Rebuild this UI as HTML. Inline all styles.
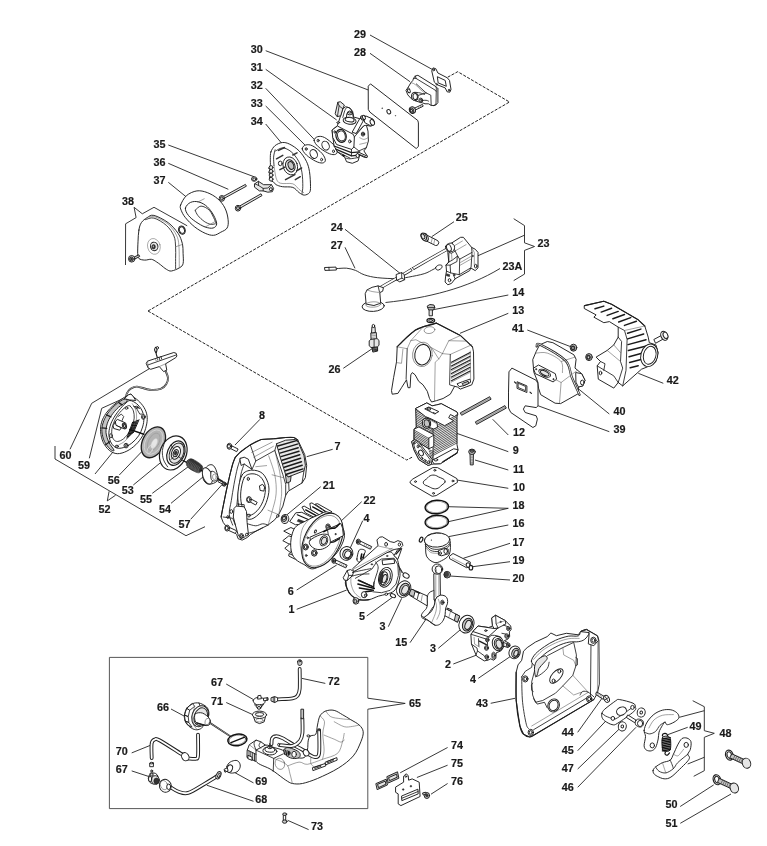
<!DOCTYPE html>
<html><head><meta charset="utf-8"><title>Parts diagram</title>
<style>
html,body{margin:0;padding:0;background:#fff;}
body{width:767px;height:846px;overflow:hidden;font-family:"Liberation Sans",sans-serif;}
svg{display:block;}
.lb{font-family:"Liberation Sans",sans-serif;font-weight:bold;font-size:11.6px;fill:#1a1a1a;stroke:#1a1a1a;stroke-width:0.2px;}
.ld{fill:none;stroke:#222;stroke-width:0.9;}
.ds{fill:none;stroke:#222;stroke-width:1.0;stroke-dasharray:3.1 1.4;}
.p{fill:#fff;stroke:#1e1e1e;stroke-width:0.95;stroke-linejoin:round;stroke-linecap:round;}
.pg{fill:#e6e6e6;stroke:#1e1e1e;stroke-width:0.95;stroke-linejoin:round;stroke-linecap:round;}
.pd{fill:#c4c4c4;stroke:#1e1e1e;stroke-width:0.95;stroke-linejoin:round;stroke-linecap:round;}
.pk{fill:#333;stroke:#222;stroke-width:0.6;stroke-linejoin:round;}
.l{fill:none;stroke:#1e1e1e;stroke-width:0.85;stroke-linejoin:round;stroke-linecap:round;}
.lt{fill:none;stroke:#555;stroke-width:0.55;stroke-linejoin:round;stroke-linecap:round;}
.lk{fill:none;stroke:#111;stroke-width:1.3;stroke-linejoin:round;stroke-linecap:round;}
</style></head><body>
<svg width="767" height="846" viewBox="0 0 767 846">
<rect width="767" height="846" fill="#fff"/>

<g id="frame">
<path class="ld" style="stroke:#444;stroke-width:0.9" d="M367.8 698.2 L367.8 657.4 L109.4 657.4 L109.4 808.6 L367.8 808.6 L367.8 709.2"/>
<polyline class="ds" points="148.0,311.0 509.5,102.0 457.7,71.7 447.3,77.4"/>
<polyline class="ds" points="148.0,311.0 406.7,460.0 413.0,456.7"/>
</g>
<g id="leaders">
<polyline class="ld" points="370.0,35.0 433.3,70.0"/>
<polyline class="ld" points="370.0,53.3 410.0,81.7"/>
<polyline class="ld" points="265.7,50.7 368.3,90.0"/>
<polyline class="ld" points="265.7,69.3 336.7,120.0"/>
<polyline class="ld" points="265.7,88.3 322.7,148.3"/>
<polyline class="ld" points="265.7,106.0 308.3,148.3"/>
<polyline class="ld" points="265.7,124.0 281.7,143.3"/>
<polyline class="ld" points="168.3,145.0 254.0,176.7"/>
<polyline class="ld" points="168.3,163.3 228.3,189.3"/>
<polyline class="ld" points="168.3,182.3 186.0,196.7"/>
<polyline class="ld" points="125.5,265.0 125.6,223.8 136.1,217.6 134.1,207.3 142.3,213.8 154.0,207.3 187.2,225.8"/>
<polyline class="ld" points="454.0,221.7 431.7,236.7"/>
<polyline class="ld" points="345.0,229.3 400.0,273.3"/>
<polyline class="ld" points="345.0,247.3 355.0,268.3"/>
<polyline class="ld" points="513.7,218.7 524.5,225.6 524.5,242.8 534.5,246.5 524.5,250.4 524.5,274.1 513.7,280.6"/>
<polyline class="ld" points="524.5,235.2 477.8,255.8"/>
<polyline class="ld" points="508.3,295.0 431.7,310.0"/>
<polyline class="ld" points="508.3,313.3 460.0,333.3"/>
<polyline class="ld" points="527.3,330.0 570.7,346.7"/>
<polyline class="ld" points="663.3,383.3 638.3,373.3"/>
<polyline class="ld" points="609.3,414.0 570.0,382.0"/>
<polyline class="ld" points="609.3,431.7 536.0,405.0"/>
<polyline class="ld" points="343.3,368.3 372.7,348.3"/>
<polyline class="ld" points="508.3,435.0 492.7,419.3"/>
<polyline class="ld" points="508.3,451.7 456.7,433.3"/>
<polyline class="ld" points="508.3,470.0 475.0,460.0"/>
<polyline class="ld" points="508.3,488.3 456.7,480.0"/>
<polyline class="ld" points="448.3,506.7 508.3,508.3 448.3,521.7"/>
<polyline class="ld" points="508.3,525.0 448.3,536.7"/>
<polyline class="ld" points="510.0,543.3 463.3,558.3"/>
<polyline class="ld" points="510.0,561.7 472.7,566.7"/>
<polyline class="ld" points="510.0,580.0 450.0,576.0"/>
<polyline class="ld" points="332.7,449.3 306.7,456.7"/>
<polyline class="ld" points="320.7,486.7 286.7,515.0"/>
<polyline class="ld" points="361.7,501.7 335.0,526.7"/>
<polyline class="ld" points="362.7,520.7 349.3,550.0"/>
<polyline class="ld" points="70.0,449.3 91.7,403.3 150.0,368.3"/>
<polyline class="ld" points="89.3,458.3 101.7,408.3 126.0,397.3"/>
<polyline class="ld" points="95.0,474.0 114.0,450.7"/>
<polyline class="ld" points="119.3,475.0 141.7,451.7"/>
<polyline class="ld" points="133.3,485.0 161.7,461.7"/>
<polyline class="ld" points="152.3,493.3 188.3,466.7"/>
<polyline class="ld" points="171.0,503.3 203.3,476.7"/>
<polyline class="ld" points="190.7,519.3 221.7,485.0"/>
<polyline class="ld" points="260.0,419.3 235.0,445.0"/>
<polyline class="ld" points="55.0,446.0 55.0,459.0 186.0,535.7 205.0,526.7"/>
<polyline class="ld" points="109.1,491.3 107.3,500.9 115.6,495.2"/>
<polyline class="ld" points="296.7,590.0 336.7,565.0"/>
<polyline class="ld" points="296.7,609.3 346.7,590.0"/>
<polyline class="ld" points="366.7,616.0 393.3,596.7"/>
<polyline class="ld" points="388.3,626.7 401.7,598.3"/>
<polyline class="ld" points="410.0,642.7 430.0,613.3"/>
<polyline class="ld" points="438.3,648.3 460.0,630.0"/>
<polyline class="ld" points="453.3,664.0 476.7,655.0"/>
<polyline class="ld" points="478.3,678.3 510.0,656.7"/>
<polyline class="ld" points="490.7,703.3 515.0,698.3"/>
<polyline class="ld" points="577.7,732.3 602.7,697.3"/>
<polyline class="ld" points="577.7,750.7 607.7,719.0"/>
<polyline class="ld" points="577.7,769.0 621.0,727.3"/>
<polyline class="ld" points="577.7,787.3 636.0,727.3"/>
<polyline class="ld" points="687.7,727.3 667.7,734.7"/>
<polyline class="ld" points="692.7,700.7 704.3,706.7 704.3,730.7 714.3,733.3 704.3,737.3 704.3,770.7 693.7,776.3"/>
<polyline class="ld" points="704.3,710.7 679.3,717.3"/>
<polyline class="ld" points="704.3,757.3 687.7,764.0"/>
<polyline class="ld" points="680.2,806.5 713.7,784.9"/>
<polyline class="ld" points="680.3,823.3 731.0,794.0"/>
<polyline class="ld" points="367.8,698.2 405.2,703.4 367.8,709.2"/>
<polyline class="ld" points="447.6,747.5 400.2,772.8"/>
<polyline class="ld" points="447.6,765.2 416.9,777.5"/>
<polyline class="ld" points="447.6,783.5 431.0,794.2"/>
<polyline class="ld" points="226.2,684.0 254.2,700.0"/>
<polyline class="ld" points="226.2,702.5 253.5,715.0"/>
<polyline class="ld" points="171.0,709.0 186.8,717.5"/>
<polyline class="ld" points="325.3,683.4 302.0,678.4"/>
<polyline class="ld" points="131.7,752.9 150.7,745.2"/>
<polyline class="ld" points="131.7,770.9 150.0,776.9"/>
<polyline class="ld" points="253.5,782.9 233.5,771.9"/>
<polyline class="ld" points="253.5,801.3 206.8,785.2"/>
<polyline class="ld" points="308.6,829.6 287.6,820.3"/>
<path class="ld" d="M500 268.5 C468 288 428 298 385.5 302.5"/>
</g>
<g id="parts">
<!-- a1_cover38.svg -->
<path class="p" d="M138.9 230.1 C139.4 226.9 140.0 224.7 141.4 222.6 C142.8 220.5 145.1 218.8 147.2 217.6 C149.3 216.4 150.4 214.6 153.9 215.4 C157.4 216.2 164.0 219.6 168.1 222.6 C172.1 225.6 175.7 229.9 178.1 233.4 C180.5 236.9 181.4 240.1 182.3 243.4 C183.1 246.8 183.0 250.1 183.1 253.5 C183.2 256.8 183.7 261.1 183.1 263.5 C182.6 265.8 181.7 266.4 179.8 267.6 C177.8 268.9 173.6 270.7 171.4 271.0 C169.2 271.3 168.2 270.3 166.4 269.3 C164.6 268.3 162.2 266.1 160.6 264.8 C158.9 263.6 157.9 262.7 156.4 261.8 C154.9 260.9 153.3 259.6 151.4 259.3 C149.4 259.0 146.8 260.3 144.7 260.1 C142.6 260.0 140.0 259.6 138.9 258.5 C137.7 257.4 137.8 256.2 137.7 253.5 C137.6 250.7 137.8 245.7 138.0 241.8 C138.2 237.9 138.3 233.3 138.9 230.1Z"/>
<path class="l" d="M145.5 219.7 C146.9 219.5 150.4 217.1 153.9 218.1 C157.4 219.0 163.1 222.4 166.4 225.4 C169.8 228.4 172.4 232.4 173.9 235.9 C175.5 239.5 175.3 243.0 175.6 246.8 C175.9 250.5 175.6 254.8 175.6 258.5 C175.6 262.1 175.6 266.8 175.6 268.5"/>
<path class="lt" d="M148.9 217.1 C150.0 217.1 152.4 215.9 155.6 217.1 C158.8 218.3 164.6 221.2 168.1 224.2 C171.6 227.2 174.6 231.5 176.4 235.1 C178.2 238.7 178.5 240.5 178.9 245.9 C179.4 251.4 179.2 264.0 179.3 267.6"/>
<path class="lt" d="M175.6 246.8 L182.8 244.3"/>
<ellipse class="p" cx="153.9" cy="246.4" rx="6.3" ry="8.0" transform="rotate(-15.0 153.9 246.4)" style="stroke:#666;stroke-width:0.5"/>
<ellipse class="pg" cx="154.2" cy="246.4" rx="3.7" ry="4.3" transform="rotate(-15.0 154.2 246.4)"/>
<ellipse class="pk" cx="153.6" cy="246.8" rx="1.8" ry="2.2" transform="rotate(0.0 153.6 246.8)"/>
<ellipse class="p" cx="153.4" cy="246.6" rx="0.8" ry="1.0" transform="rotate(0.0 153.4 246.6)" style="stroke-width:0.4"/>
<path class="pd" d="M133.9 257.1 L138.9 254.8 L139.7 256.5 L134.7 259.1Z"/>
<ellipse class="pg" cx="131.7" cy="258.8" rx="3.2" ry="3.3" transform="rotate(0.0 131.7 258.8)"/>
<ellipse class="pd" cx="131.4" cy="259.0" rx="1.8" ry="2.0" transform="rotate(0.0 131.4 259.0)"/>
<ellipse class="pk" cx="131.4" cy="259.0" rx="0.8" ry="1.0" transform="rotate(0.0 131.4 259.0)"/>
<ellipse class="p" cx="181.9" cy="230.1" rx="3.3" ry="4.2" transform="rotate(-20.0 181.9 230.1)"/>
<ellipse class="p" cx="181.9" cy="230.1" rx="2.5" ry="3.3" transform="rotate(-20.0 181.9 230.1)"/>
<!-- a2_filter.svg -->
<path class="p" d="M180.6 205.1 C181.5 202.7 183.7 198.1 186.4 195.7 C189.1 193.3 193.4 191.4 196.9 190.9 C200.3 190.4 203.8 191.3 207.3 192.6 C210.8 193.9 214.8 196.2 217.7 198.8 C220.7 201.4 223.3 204.7 225.0 208.2 C226.8 211.7 227.8 216.4 228.1 219.7 C228.5 223.0 228.3 226.0 227.1 228.0 C225.9 230.1 223.1 231.0 220.8 232.2 C218.6 233.4 216.2 235.2 213.5 235.3 C210.9 235.5 208.3 234.6 205.2 233.3 C202.1 231.9 198.1 229.6 194.8 227.0 C191.5 224.4 187.6 220.4 185.4 217.6 C183.1 214.8 182.0 212.4 181.2 210.3 C180.4 208.2 179.7 207.5 180.6 205.1Z"/>
<path class="p" d="M185.4 208.2 C185.7 206.0 188.3 203.4 190.6 202.4 C192.9 201.3 196.2 201.2 198.9 202.0 C201.7 202.7 204.9 204.6 207.3 206.8 C209.7 209.0 212.0 212.3 213.5 215.1 C215.1 218.0 216.7 221.7 216.7 223.9 C216.6 226.0 215.0 227.5 213.1 228.0 C211.2 228.6 208.1 228.0 205.2 227.0 C202.3 226.0 198.6 223.7 195.8 221.8 C193.0 219.9 190.3 217.8 188.5 215.5 C186.8 213.3 185.0 210.4 185.4 208.2Z"/>
<path class="l" d="M195.2 210.3 C196.2 209.6 198.7 206.1 201.0 206.1 C203.4 206.1 207.1 208.0 209.4 210.3 C211.6 212.6 213.5 217.4 214.6 219.7 C215.7 222.0 215.8 223.5 216.1 224.3"/>
<path class="l" d="M195.2 210.3 C195.6 211.2 196.4 213.7 197.9 215.5 C199.4 217.4 202.1 219.9 204.2 221.4 C206.2 222.8 208.7 223.9 210.4 224.3 C212.2 224.7 213.9 223.9 214.6 223.9"/>
<path class="lt" d="M197.9 202.0 L204.2 198.8"/>
<path class="lt" d="M205.2 227.0 L214.6 221.8"/>
<path class="pg" d="M222.4 199.3 L246.4 186.2 L245.4 184.4 L221.4 197.5Z"/>
<ellipse class="p" cx="221.9" cy="198.4" rx="2.7" ry="2.9" transform="rotate(0.0 221.9 198.4)"/>
<ellipse class="pd" cx="221.9" cy="198.4" rx="1.5" ry="1.7" transform="rotate(0.0 221.9 198.4)"/>
<path class="pg" d="M238.5 209.1 L262.0 195.6 L261.0 193.8 L237.4 207.3Z"/>
<ellipse class="p" cx="238.0" cy="208.2" rx="2.7" ry="2.9" transform="rotate(0.0 238.0 208.2)"/>
<ellipse class="pd" cx="238.0" cy="208.2" rx="1.5" ry="1.7" transform="rotate(0.0 238.0 208.2)"/>
<ellipse class="p" cx="254.2" cy="179.0" rx="2.7" ry="2.3" transform="rotate(0.0 254.2 179.0)"/>
<ellipse class="p" cx="254.2" cy="179.2" rx="1.5" ry="1.3" transform="rotate(0.0 254.2 179.2)"/>
<path class="pg" d="M254.8 183.8 L258.4 181.3 L263.6 184.7 L271.5 184.7 L273.6 188.4 L272.4 191.7 L267.8 192.2 L263.2 190.9 L259.4 190.9 L254.8 187.4Z"/>
<path class="l" d="M258.4 181.3 L258.6 185.5 L263.2 188.4 L263.2 190.9"/>
<path class="l" d="M254.8 183.8 L258.6 185.5"/>
<path class="l" d="M263.2 188.4 L267.8 188.0 L271.5 184.7"/>
<ellipse class="p" cx="270.9" cy="189.2" rx="1.5" ry="1.5" transform="rotate(0.0 270.9 189.2)"/>
<path class="p" d="M270.9 151.9 C271.7 149.6 273.2 147.2 275.1 145.6 C277.0 144.1 279.9 142.8 282.4 142.5 C284.8 142.3 286.9 142.8 289.7 144.2 C292.5 145.6 296.3 148.0 299.1 150.9 C301.9 153.7 304.6 157.8 306.4 161.3 C308.1 164.8 308.8 167.5 309.5 171.7 C310.2 175.9 310.5 182.8 310.5 186.3 C310.5 189.8 310.5 191.1 309.5 192.6 C308.5 194.0 306.0 195.1 304.3 195.1 C302.5 195.1 301.0 193.9 299.1 192.6 C297.2 191.3 295.6 188.3 292.8 187.4 C290.0 186.4 285.2 187.2 282.4 186.7 C279.6 186.3 277.6 185.4 276.1 184.7 C274.7 183.9 274.6 182.9 273.6 182.1 C272.6 181.4 271.0 180.9 270.3 180.1 C269.6 179.2 269.3 177.8 269.5 176.9 C269.6 176.1 271.2 175.5 271.1 174.8 C271.0 174.2 269.0 173.6 268.8 172.8 C268.6 172.0 269.9 170.8 269.9 170.1 C269.8 169.3 268.5 168.7 268.6 168.0 C268.7 167.2 270.0 166.9 270.3 165.5 C270.6 164.0 270.2 161.5 270.3 159.2 C270.4 156.9 270.1 154.2 270.9 151.9Z"/>
<path class="l" d="M275.7 150.9 C276.9 150.4 280.2 147.8 282.8 147.9 C285.4 148.1 288.5 149.5 291.1 151.7 C293.8 153.9 296.8 157.8 298.7 161.3 C300.5 164.8 301.3 168.6 302.0 172.8 C302.7 176.9 302.8 182.8 302.8 186.3 C302.8 189.8 302.1 192.4 302.0 193.6"/>
<path class="l" d="M275.1 149.8 C274.8 151.0 273.8 154.5 273.6 157.1 C273.4 159.7 274.0 164.1 274.0 165.5"/>
<path class="lt" d="M274.0 165.5 C274.4 167.5 275.1 175.0 276.1 178.0 C277.2 180.9 277.5 182.2 280.3 183.2 C283.1 184.2 289.7 182.8 292.8 183.8 C295.9 184.9 297.3 188.0 299.1 189.4 C300.9 190.9 302.9 192.1 303.7 192.6"/>
<ellipse class="pg" cx="271.1" cy="167.5" rx="1.9" ry="1.9" transform="rotate(0.0 271.1 167.5)"/>
<ellipse class="pg" cx="271.1" cy="171.3" rx="1.9" ry="1.9" transform="rotate(0.0 271.1 171.3)"/>
<ellipse class="pg" cx="271.1" cy="175.1" rx="1.9" ry="1.9" transform="rotate(0.0 271.1 175.1)"/>
<ellipse class="pg" cx="271.1" cy="179.2" rx="1.9" ry="1.9" transform="rotate(0.0 271.1 179.2)"/>
<ellipse class="pg" cx="290.3" cy="165.9" rx="4.6" ry="6.3" transform="rotate(-20.0 290.3 165.9)"/>
<ellipse class="pd" cx="290.9" cy="165.5" rx="2.7" ry="4.0" transform="rotate(-20.0 290.9 165.5)"/>
<ellipse class="l" cx="290.3" cy="165.9" rx="7.1" ry="9.2" transform="rotate(-20.0 290.3 165.9)"/>
<path class="l" d="M276.5 158.8 L282.8 155.4" style="stroke-width:1.5;stroke:#333"/>
<path class="l" d="M278.6 150.4 L284.5 147.5" style="stroke-width:1.5;stroke:#333"/>
<path class="l" d="M279.9 169.6 L284.9 167.1" style="stroke-width:1.5;stroke:#333"/>
<path class="l" d="M285.5 179.6 L294.9 174.6" style="stroke-width:1.5;stroke:#333"/>
<path class="l" d="M295.3 179.6 L300.3 176.7" style="stroke-width:1.5;stroke:#333"/>
<path class="l" d="M296.6 170.9 L301.6 168.0" style="stroke-width:1.5;stroke:#333"/>
<path class="l" d="M292.8 155.0 L297.0 152.9" style="stroke-width:1.5;stroke:#333"/>
<ellipse class="p" cx="280.3" cy="163.4" rx="1.9" ry="2.3" transform="rotate(0.0 280.3 163.4)"/>
<path class="p" d="M302.2 148.8 C302.1 147.1 304.0 145.5 305.7 145.0 C307.5 144.5 309.9 144.5 312.6 145.9 C315.3 147.2 319.9 151.0 322.0 153.4 C324.1 155.8 325.3 158.6 325.4 160.2 C325.4 161.8 324.0 162.8 322.4 163.0 C320.8 163.1 318.4 162.6 315.8 161.3 C313.1 160.0 308.6 157.1 306.4 155.0 C304.1 152.9 302.3 150.4 302.2 148.8Z"/>
<ellipse class="p" cx="313.7" cy="154.0" rx="3.5" ry="4.6" transform="rotate(-25.0 313.7 154.0)"/>
<ellipse class="p" cx="306.2" cy="149.0" rx="1.0" ry="1.3" transform="rotate(0.0 306.2 149.0)"/>
<ellipse class="p" cx="321.6" cy="159.6" rx="1.0" ry="1.3" transform="rotate(0.0 321.6 159.6)"/>
<path class="p" d="M314.1 140.4 C314.0 138.8 315.9 137.2 317.6 136.7 C319.4 136.2 321.8 136.1 324.5 137.5 C327.2 138.9 331.8 142.6 333.9 145.0 C336.0 147.4 337.2 150.3 337.2 151.9 C337.3 153.5 335.9 154.4 334.3 154.6 C332.7 154.8 330.3 154.3 327.6 152.9 C325.0 151.6 320.5 148.8 318.3 146.7 C316.0 144.6 314.2 142.1 314.1 140.4Z"/>
<ellipse class="p" cx="325.6" cy="145.6" rx="3.5" ry="4.6" transform="rotate(-25.0 325.6 145.6)"/>
<ellipse class="p" cx="318.1" cy="140.6" rx="1.0" ry="1.3" transform="rotate(0.0 318.1 140.6)"/>
<ellipse class="p" cx="333.5" cy="151.3" rx="1.0" ry="1.3" transform="rotate(0.0 333.5 151.3)"/>
<!-- a3_carb.svg -->
<path class="p" d="M431.9 70.6 L433.0 67.9 L435.8 68.7 L437.9 73.0 L447.1 77.7 L449.5 80.4 L451.0 89.4 L449.9 92.2 L447.1 91.8 L445.2 87.9 L437.0 84.7 L434.6 82.4Z"/>
<path class="p" d="M437.7 76.9 L445.2 80.4 L446.3 86.3 L438.5 83.0Z"/>
<ellipse class="p" cx="433.8" cy="69.9" rx="0.8" ry="1.0" transform="rotate(0.0 433.8 69.9)"/>
<ellipse class="p" cx="449.1" cy="90.2" rx="0.8" ry="1.0" transform="rotate(0.0 449.1 90.2)"/>
<ellipse class="p" cx="436.8" cy="84.3" rx="0.6" ry="0.8" transform="rotate(0.0 436.8 84.3)"/>
<path class="p" d="M406.2 90.1 L408.1 87.4 L410.9 82.7 L412.8 80.5 L413.5 78.4 L415.3 76.0 L417.9 75.3 L435.9 86.6 L437.9 88.6 L437.9 102.6 L435.9 105.0 L434.0 105.5 L431.2 105.4 L428.5 103.8 L425.0 103.8 L422.6 102.9 L418.7 101.9 L414.8 100.7 L411.3 98.7 L408.1 95.2Z"/>
<path class="l" d="M435.9 86.6 L436.3 88.3 L436.0 104.0 L434.0 105.5"/>
<path class="lt" d="M436.3 88.3 L437.9 88.6"/>
<path class="l" d="M415.3 76.0 L416.0 78.4 L435.1 90.1 L436.0 91.3"/>
<path class="l" d="M413.5 78.4 L416.0 78.4"/>
<path class="lt" d="M410.9 82.7 C411.3 82.8 412.6 83.0 413.6 83.5 C414.6 84.0 415.6 84.8 416.7 85.8 C417.9 86.9 419.3 88.6 420.6 89.7 C422.0 90.9 423.9 92.3 424.6 92.9"/>
<path class="l" d="M416.3 83.9 L426.1 92.9"/>
<path class="l" d="M426.1 92.9 L417.5 95.6"/>
<path class="l" d="M426.1 92.9 L430.8 95.2 L431.2 105.4"/>
<ellipse class="p" cx="414.8" cy="96.5" rx="3.3" ry="4.1" transform="rotate(-10.0 414.8 96.5)"/>
<ellipse class="p" cx="415.2" cy="96.6" rx="2.2" ry="3.0" transform="rotate(-10.0 415.2 96.6)"/>
<ellipse class="p" cx="420.8" cy="100.4" rx="1.9" ry="2.3" transform="rotate(0.0 420.8 100.4)"/>
<ellipse class="p" cx="421.0" cy="100.5" rx="1.0" ry="1.4" transform="rotate(0.0 421.0 100.5)"/>
<path class="l" d="M414.8 92.3 C415.6 92.4 418.2 92.5 419.9 92.9 C421.5 93.2 423.8 94.2 424.6 94.4"/>
<path class="l" d="M422.7 100.4 C423.3 100.4 425.2 100.2 426.1 100.3 C427.1 100.4 428.1 100.9 428.5 101.1"/>
<ellipse class="p" cx="408.9" cy="90.9" rx="1.3" ry="2.0" transform="rotate(-25.0 408.9 90.9)"/>
<path class="l" d="M408.1 87.4 L409.7 89.1"/>
<path class="p" d="M415.0 107.9 L422.4 104.4 L423.2 106.2 L415.8 109.8Z"/>
<path class="lt" d="M418.3 106.5 L418.9 108.2"/>
<path class="lt" d="M420.3 105.5 L420.9 107.3"/>
<ellipse class="pg" cx="412.4" cy="110.1" rx="3.0" ry="3.4" transform="rotate(-20.0 412.4 110.1)"/>
<ellipse class="p" cx="411.7" cy="110.5" rx="2.0" ry="2.5" transform="rotate(-20.0 411.7 110.5)"/>
<ellipse class="pg" cx="411.4" cy="110.6" rx="1.1" ry="1.4" transform="rotate(-20.0 411.4 110.6)"/>
<path class="p" d="M368.5 85.9 L370.5 83.9 L417.8 120.5 L418.4 122.9 L418.4 146.5 L416.2 148.5 L369.9 112.1 L368.5 109.8Z"/>
<ellipse class="p" cx="388.8" cy="111.7" rx="1.8" ry="2.3" transform="rotate(-25.0 388.8 111.7)"/>
<ellipse class="pk" cx="382.2" cy="108.2" rx="0.4" ry="0.4" transform="rotate(0.0 382.2 108.2)"/>
<ellipse class="pk" cx="395.5" cy="115.8" rx="0.3" ry="0.3" transform="rotate(0.0 395.5 115.8)"/>
<!-- a4_carb.svg -->
<path class="p" d="M332.4 129.8 L337.4 125.7 L342.8 108.8 L345.7 106.7 L349.8 107.9 L352.7 111.6 L353.5 117.0 L359.7 118.7 L361.4 116.6 L364.7 115.8 L371.3 118.7 L374.2 122.0 L373.0 125.3 L370.1 126.1 L366.4 125.3 L368.0 131.1 L368.4 141.0 L366.4 147.6 L363.9 150.9 L367.2 155.9 L366.4 157.6 L363.9 157.1 L359.7 155.1 L358.1 160.9 L352.3 163.3 L346.5 161.7 L344.9 157.6 L337.4 151.8 L334.1 146.0 L332.9 137.7Z"/>
<path class="pg" d="M335.3 113.3 L337.8 102.3 L340.3 101.7 L344.4 105.0 L342.8 108.8 L340.7 115.8 L337.4 116.6Z"/>
<path class="l" d="M337.8 102.3 L339.1 105.9 L342.8 108.8"/>
<path class="l" d="M339.1 105.9 L337.4 116.6"/>
<path class="l" d="M342.8 117.4 C343.1 116.3 344.2 112.1 344.9 110.4 C345.5 108.8 346.1 107.9 346.9 107.5 C347.7 107.2 348.9 107.6 349.8 108.3 C350.7 109.0 351.7 110.3 352.3 111.6 C352.8 113.0 353.0 115.8 353.1 116.6"/>
<path class="p" d="M347.2 113.7 L352.7 113.7 L353.5 118.7 L346.7 118.7Z"/>
<ellipse class="pg" cx="349.8" cy="113.1" rx="2.6" ry="1.8" transform="rotate(0.0 349.8 113.1)"/>
<ellipse class="p" cx="349.8" cy="112.1" rx="1.5" ry="1.0" transform="rotate(0.0 349.8 112.1)"/>
<ellipse class="p" cx="349.6" cy="120.7" rx="6.5" ry="3.5" transform="rotate(8.0 349.6 120.7)"/>
<ellipse class="p" cx="349.6" cy="119.7" rx="4.5" ry="2.1" transform="rotate(8.0 349.6 119.7)"/>
<path class="p" d="M352.3 131.9 L359.7 118.7 L362.1 117.9 L363.9 119.7 L356.4 133.2Z"/>
<path class="p" d="M363.9 117.0 L366.4 116.2 L373.0 119.1 L374.5 122.0 L373.4 124.9 L370.9 126.0 L365.1 122.8Z"/>
<ellipse class="p" cx="372.3" cy="122.4" rx="2.0" ry="3.0" transform="rotate(-25.0 372.3 122.4)"/>
<ellipse class="pd" cx="362.4" cy="117.9" rx="1.5" ry="2.3" transform="rotate(-25.0 362.4 117.9)"/>
<ellipse class="p" cx="363.9" cy="117.4" rx="1.3" ry="2.2" transform="rotate(-25.0 363.9 117.4)"/>
<path class="p" d="M332.4 129.8 L337.4 126.0 L353.1 134.2 L354.4 136.9 L353.9 147.0 L351.5 149.4 L336.6 144.5 L332.9 137.7Z"/>
<ellipse class="p" cx="341.1" cy="135.9" rx="5.1" ry="6.5" transform="rotate(-15.0 341.1 135.9)" style="stroke-width:1.2"/>
<ellipse class="p" cx="341.4" cy="135.9" rx="3.8" ry="5.1" transform="rotate(-15.0 341.4 135.9)"/>
<ellipse class="p" cx="349.8" cy="141.4" rx="1.2" ry="1.5" transform="rotate(0.0 349.8 141.4)"/>
<ellipse class="p" cx="334.8" cy="131.9" rx="0.8" ry="1.2" transform="rotate(0.0 334.8 131.9)"/>
<ellipse class="p" cx="338.2" cy="122.6" rx="1.5" ry="0.7" transform="rotate(0.0 338.2 122.6)"/>
<path class="l" d="M354.4 136.9 L363.9 125.7"/>
<path class="l" d="M353.9 147.0 L358.9 150.9 L366.4 147.6"/>
<path class="l" d="M356.4 133.2 L363.9 125.7 L366.4 125.3"/>
<ellipse class="p" cx="363.0" cy="134.1" rx="1.7" ry="2.0" transform="rotate(0.0 363.0 134.1)"/>
<ellipse class="p" cx="363.0" cy="134.1" rx="0.8" ry="1.1" transform="rotate(0.0 363.0 134.1)"/>
<path class="lt" d="M359.7 137.7 C360.4 138.0 362.5 139.4 363.9 139.4 C365.3 139.4 367.3 138.0 368.0 137.7"/>
<path class="lt" d="M359.7 144.3 L366.4 142.7"/>
<path class="l" d="M334.1 146.0 L351.5 152.6 L359.7 151.8" style="stroke-width:1.2"/>
<path class="l" d="M335.8 149.1 L351.5 155.9 L358.9 155.1" style="stroke-width:1.2"/>
<path class="l" d="M351.5 149.4 L351.5 155.9"/>
<path class="l" d="M337.4 151.8 L349.8 158.0"/>
<path class="l" d="M345.7 158.0 C346.4 158.1 347.7 158.9 349.8 158.8 C351.9 158.7 356.7 157.8 358.1 157.6"/>
<ellipse class="p" cx="357.7" cy="155.5" rx="1.7" ry="2.0" transform="rotate(0.0 357.7 155.5)"/>
<path class="p" d="M358.5 152.2 L367.6 156.3 L367.0 157.7 L357.9 153.8Z"/>
<path class="l" d="M342.8 155.1 L344.4 155.9" style="stroke-width:1.6;stroke:#111"/>
<!-- b1_ignition.svg -->
<path class="l" d="M336.6 268.6 C338.3 268.6 343.5 267.9 346.6 268.2 C349.7 268.5 352.5 269.3 355.5 270.4 C358.4 271.5 360.6 273.6 364.3 274.8 C368.0 276.1 372.3 277.1 377.6 277.7 C383.0 278.3 391.3 278.7 396.5 278.6 C401.6 278.5 404.0 277.9 408.7 277.1 C413.3 276.2 420.1 275.0 424.2 273.7 C428.2 272.5 431.0 270.5 433.0 269.5 C435.1 268.5 435.8 268.0 436.4 267.7" style="stroke-width:0.9"/>
<path class="p" d="M324.9 267.5 L336.0 267.1 L336.4 270.0 L325.3 270.4Z"/>
<path class="l" d="M328.9 267.3 L329.1 270.2"/>
<path class="p" d="M435.7 267.3 C436.1 266.6 437.5 265.4 438.6 265.1 C439.6 264.8 441.4 265.0 441.9 265.5 C442.4 266.0 442.0 267.5 441.5 268.2 C440.9 268.9 439.4 269.7 438.6 270.0 C437.7 270.2 436.8 270.0 436.4 269.5 C435.9 269.1 435.3 268.0 435.7 267.3Z"/>
<path class="l" d="M450.3 248.2 C449.3 248.7 449.9 247.7 444.1 250.9 C438.3 254.1 422.3 263.2 415.3 267.3 C408.3 271.4 406.8 272.5 402.0 275.3 C397.2 278.1 390.3 282.0 386.5 284.1 C382.7 286.3 380.6 287.5 379.4 288.1" style="stroke:#222;stroke-width:3.2"/>
<path class="l" d="M450.3 248.2 C449.3 248.7 449.9 247.7 444.1 250.9 C438.3 254.1 422.3 263.2 415.3 267.3 C408.3 271.4 406.8 272.5 402.0 275.3 C397.2 278.1 390.3 282.0 386.5 284.1 C382.7 286.3 380.6 287.5 379.4 288.1" style="stroke:#fff;stroke-width:1.9"/>
<path class="l" d="M411.1 267.7 L412.9 270.2" style="stroke:#fff;stroke-width:2.2"/>
<path class="l" d="M410.6 268.4 L412.0 270.6"/>
<path class="l" d="M412.2 267.3 L413.8 269.5"/>
<path class="p" d="M396.5 274.4 L401.6 272.6 L404.2 274.4 L404.7 279.7 L399.8 281.9 L396.9 280.2Z"/>
<path class="l" d="M401.6 272.6 L401.8 278.2 L404.7 279.7"/>
<path class="l" d="M396.9 280.2 L401.8 278.2"/>
<ellipse class="p" cx="373.2" cy="306.3" rx="11.1" ry="5.1" transform="rotate(-3.0 373.2 306.3)"/>
<path class="p" d="M366.1 303.7 L365.2 293.7 L367.0 289.9 L372.1 287.3 L378.1 285.9 L383.4 287.7 L382.7 291.2 L379.8 292.6 L380.7 303.2 L374.3 305.4Z"/>
<ellipse class="lt" cx="373.2" cy="304.5" rx="7.5" ry="2.7" transform="rotate(-3.0 373.2 304.5)"/>
<path class="l" d="M378.1 285.9 L379.4 291.7"/>
<path class="lt" d="M367.0 289.9 C367.8 290.2 369.9 291.0 372.1 291.5 C374.2 291.9 378.5 292.4 379.8 292.6"/>
<path class="pg" d="M371.4 339.1 L376.7 338.2 L379.0 340.4 L379.0 345.3 L377.2 347.1 L371.0 347.5 L369.2 345.8 L369.2 341.3Z"/>
<path class="pd" d="M372.3 347.5 L377.6 347.1 L377.6 351.1 L373.2 352.0Z"/>
<path class="p" d="M371.2 332.9 L376.3 332.5 L376.7 338.7 L371.4 339.1Z"/>
<path class="pg" d="M372.3 326.9 L375.0 326.9 L375.4 332.5 L371.9 332.9Z"/>
<ellipse class="p" cx="373.4" cy="326.0" rx="1.3" ry="1.6" transform="rotate(0.0 373.4 326.0)"/>
<path class="lt" d="M371.4 334.2 L376.5 333.8"/>
<path class="lt" d="M371.4 335.8 L376.5 335.3"/>
<path class="lt" d="M371.4 337.3 L376.5 336.9"/>
<path class="l" d="M372.5 348.4 L377.6 348.0"/>
<path class="l" d="M372.5 349.8 L377.6 349.3"/>
<path class="l" d="M372.5 350.9 L377.6 350.4"/>
<path class="l" d="M374.1 339.1 L374.1 347.1"/>
<path class="pg" d="M429.5 309.2 L432.4 309.2 L432.4 315.8 L429.5 315.8Z"/>
<path class="pd" d="M427.5 305.9 L429.9 304.5 L433.9 305.0 L434.8 307.2 L433.5 309.9 L429.0 309.9Z"/>
<path class="l" d="M427.7 307.6 L434.8 307.6"/>
<ellipse class="p" cx="430.8" cy="320.5" rx="3.8" ry="2.0" transform="rotate(0.0 430.8 320.5)" style="stroke-width:1.3"/>
<ellipse class="p" cx="430.8" cy="320.5" rx="2.0" ry="0.9" transform="rotate(0.0 430.8 320.5)"/>
<!-- b1a_coil.svg -->
<path class="p" d="M425.9 234.6 L437.8 240.7 L438.9 242.8 L437.4 245.3 L435.5 245.5 L424.6 240.1Z"/>
<path class="lt" d="M432.3 238.0 L431.1 243.2"/>
<path class="lt" d="M434.9 239.2 L433.6 244.5"/>
<ellipse class="pg" cx="425.2" cy="237.3" rx="2.7" ry="4.1" transform="rotate(-25.0 425.2 237.3)"/>
<ellipse class="p" cx="423.7" cy="236.7" rx="2.5" ry="3.8" transform="rotate(-25.0 423.7 236.7)"/>
<ellipse class="pg" cx="423.0" cy="236.4" rx="1.6" ry="2.7" transform="rotate(-25.0 423.0 236.4)"/>
<path class="p" d="M452.0 242.8 L460.6 237.3 L463.4 237.3 L471.6 247.4 L475.2 249.2 L478.0 252.4 L478.0 267.9 L475.2 270.6 L470.7 267.9 L469.7 270.6 L455.1 278.8 L451.5 283.4 L447.8 284.8 L445.1 282.0 L445.6 276.1 L446.5 271.1 L446.0 265.1 L448.8 262.0 L447.8 252.4 L447.8 248.7Z"/>
<path class="l" d="M452.0 242.8 L455.1 251.0 L457.9 256.5 L459.7 259.2 L472.0 252.4 L471.6 247.4"/>
<path class="lt" d="M455.1 251.0 L466.1 244.6"/>
<path class="lt" d="M453.3 246.4 L462.4 241.0"/>
<path class="l" d="M459.7 259.2 L459.3 274.7 L470.7 267.9"/>
<path class="l" d="M472.0 252.4 L471.1 267.0"/>
<path class="lt" d="M460.6 262.4 L470.8 256.5"/>
<path class="lt" d="M460.4 265.1 L470.8 259.2"/>
<path class="l" d="M446.0 265.1 L448.8 262.0 L452.4 260.1 L457.0 256.5 L457.9 256.5"/>
<path class="l" d="M446.5 271.1 L450.6 272.9 L459.3 274.7"/>
<path class="l" d="M450.6 272.9 L450.1 265.1 L457.0 261.5 L457.2 256.9"/>
<path class="l" d="M446.0 265.1 L450.1 265.1"/>
<path class="l" d="M448.8 262.0 L448.9 252.4 L451.5 253.3 L455.1 251.0"/>
<path class="lt" d="M451.5 253.3 L452.0 259.7"/>
<path class="l" d="M455.1 278.8 L453.3 274.7"/>
<ellipse class="p" cx="449.5" cy="280.2" rx="1.3" ry="1.6" transform="rotate(0.0 449.5 280.2)"/>
<ellipse class="p" cx="475.7" cy="266.1" rx="1.3" ry="1.8" transform="rotate(0.0 475.7 266.1)"/>
<ellipse class="p" cx="454.2" cy="275.0" rx="0.7" ry="0.7" transform="rotate(0.0 454.2 275.0)"/>
<path class="pk" d="M446.5 273.8 L449.7 274.7 L449.5 276.6 L446.5 275.7Z"/>
<ellipse class="pk" cx="472.9" cy="256.0" rx="0.5" ry="0.9" transform="rotate(0.0 472.9 256.0)"/>
<path class="lt" d="M471.6 247.4 L474.3 252.4 L474.3 265.1"/>
<path class="p" d="M445.6 246.4 C445.9 245.5 447.3 244.2 448.3 243.7 C449.3 243.2 450.5 242.9 451.5 243.2 C452.5 243.6 453.7 244.6 454.2 245.5 C454.7 246.5 454.7 247.9 454.4 248.9 C454.1 249.9 453.4 251.0 452.4 251.5 C451.5 251.9 449.7 251.9 448.8 251.6 C447.8 251.3 447.0 250.5 446.5 249.6 C445.9 248.8 445.3 247.4 445.6 246.4Z"/>
<ellipse class="p" cx="448.9" cy="247.8" rx="2.2" ry="3.5" transform="rotate(-20.0 448.9 247.8)"/>
<!-- b2_cover13.svg -->
<path class="p" d="M436.6 323.2 L460.3 335.4 L472.5 346.8 L473.5 351.9 L473.9 379.1 L471.8 384.8 L460.3 389.1 L457.4 387.0 L454.6 386.3 L450.3 394.2 L443.1 398.5 L436.6 400.6 L431.6 402.0 L429.5 398.5 L427.3 391.3 L423.0 384.8 L418.7 381.3 L415.1 374.8 L412.3 372.6 L410.8 374.8 L410.1 387.7 L408.0 387.7 L406.5 379.8 L401.5 387.7 L397.9 393.4 L392.2 394.2 L391.5 390.6 L393.6 377.7 L396.5 361.9 L397.2 346.8 L405.8 338.2 L415.1 330.3 L423.0 326.8 L428.8 324.9Z"/>
<path class="l" d="M397.2 346.8 C398.6 345.4 402.8 341.0 405.8 338.2 C408.8 335.5 412.3 332.3 415.1 330.3 C418.0 328.4 419.4 328.0 423.0 326.8 C426.6 325.6 434.4 323.8 436.6 323.2" style="stroke-width:1.3"/>
<path class="l" d="M436.6 323.2 L460.3 335.4 L472.5 346.8" style="stroke-width:1.1"/>
<path class="lt" d="M423.0 327.2 L410.8 340.7 L407.2 348.7 L397.2 346.8"/>
<path class="l" d="M407.2 348.7 L406.1 379.1"/>
<path class="lt" d="M402.9 349.3 L401.5 363.3 L396.5 362.6"/>
<path class="lt" d="M410.8 340.7 L415.9 339.7 L431.6 347.8 L442.4 353.6 L448.8 340.7 L460.3 335.6"/>
<path class="lt" d="M448.8 340.7 L466.0 341.1 L472.5 346.8"/>
<path class="lt" d="M442.4 353.6 L450.3 354.4 L471.8 344.7"/>
<path class="lt" d="M442.4 353.6 L438.8 359.0 L435.2 362.2 L434.5 400.6"/>
<path class="lt" d="M431.6 347.8 L438.8 359.0"/>
<path class="l" d="M450.3 354.4 L449.6 384.8 L454.6 386.3"/>
<path class="lt" d="M470.3 351.1 L470.6 379.1"/>
<ellipse class="lt" cx="429.5" cy="330.1" rx="5.4" ry="3.4" transform="rotate(-8.0 429.5 330.1)"/>
<ellipse class="l" cx="422.4" cy="354.4" rx="9.8" ry="12.3" transform="rotate(8.0 422.4 354.4)" style="stroke:#555;stroke-width:0.6"/>
<ellipse class="p" cx="422.7" cy="354.7" rx="7.9" ry="10.3" transform="rotate(8.0 422.7 354.7)" style="stroke-width:1.0"/>
<path class="l" d="M451.4 362.2 L470.1 352.4" style="stroke:#222;stroke-width:1.15"/>
<path class="lt" d="M451.4 363.5 L470.1 353.7"/>
<path class="l" d="M451.4 365.9 L470.1 356.2" style="stroke:#222;stroke-width:1.15"/>
<path class="lt" d="M451.4 367.2 L470.1 357.4"/>
<path class="l" d="M451.4 369.6 L470.1 359.9" style="stroke:#222;stroke-width:1.15"/>
<path class="lt" d="M451.4 370.9 L470.1 361.2"/>
<path class="l" d="M451.4 373.4 L470.1 363.6" style="stroke:#222;stroke-width:1.15"/>
<path class="lt" d="M451.4 374.7 L470.1 364.9"/>
<path class="l" d="M451.4 377.1 L470.1 367.3" style="stroke:#222;stroke-width:1.15"/>
<path class="lt" d="M451.4 378.4 L470.1 368.6"/>
<path class="l" d="M451.4 380.8 L470.1 371.1" style="stroke:#222;stroke-width:1.15"/>
<path class="lt" d="M451.4 382.1 L470.1 372.4"/>
<path class="p" d="M457.4 383.7 L462.5 381.7 L470.1 379.1 L470.6 382.3 L463.9 385.6 L459.6 386.6Z"/>
<path class="pd" d="M462.5 383.4 L468.2 381.3 L468.9 383.4 L463.9 385.6Z"/>
<!-- c1_cyl.svg -->
<path class="pd" d="M462.0 415.1 L491.1 399.2 L489.7 396.7 L460.6 412.7Z"/>
<path class="lt" d="M461.3 413.9 L490.4 397.9" style="stroke:#777"/>
<path class="pd" d="M477.0 424.2 L506.3 408.1 L504.9 405.6 L475.7 421.7Z"/>
<path class="lt" d="M476.3 423.0 L505.6 406.9" style="stroke:#777"/>
<path class="pg" d="M470.4 453.3 L473.5 453.3 L473.2 464.9 L470.7 464.9Z"/>
<path class="lt" d="M470.6 456.1 L473.4 456.1"/>
<path class="lt" d="M470.6 457.7 L473.4 457.7"/>
<path class="lt" d="M470.6 459.3 L473.4 459.3"/>
<path class="lt" d="M470.6 460.8 L473.4 460.8"/>
<path class="lt" d="M470.6 462.4 L473.4 462.4"/>
<path class="lt" d="M470.6 463.7 L473.4 463.7"/>
<ellipse class="pd" cx="472.0" cy="451.8" rx="3.3" ry="2.7" transform="rotate(0.0 472.0 451.8)"/>
<ellipse class="pk" cx="472.0" cy="451.1" rx="1.9" ry="1.4" transform="rotate(0.0 472.0 451.1)"/>
<ellipse class="pd" cx="472.0" cy="451.1" rx="0.8" ry="0.6" transform="rotate(0.0 472.0 451.1)" style="stroke-width:0.2"/>
<!-- c1a_cyl.svg -->
<path class="p" d="M416.0 408.3 L426.8 402.9 L432.1 405.8 L436.3 405.0 L441.3 403.7 L457.0 412.0 L457.8 414.1 L457.0 416.6 L457.0 444.7 L458.0 449.7 L457.0 453.0 L440.4 463.7 L434.6 463.9 L431.3 464.4 L428.0 465.4 L418.9 459.6 L413.9 449.7 L411.9 441.4 L414.1 439.7 L414.3 429.0 L416.0 427.3Z"/>
<path class="l" d="M416.0 410.6 L432.6 419.5" style="stroke-width:0.68;stroke:#111"/>
<path class="l" d="M416.0 412.3 L432.6 421.3" style="stroke-width:0.68;stroke:#111"/>
<path class="l" d="M416.0 414.1 L432.6 423.0" style="stroke-width:0.68;stroke:#111"/>
<path class="l" d="M416.0 415.8 L432.6 424.8" style="stroke-width:0.68;stroke:#111"/>
<path class="l" d="M416.0 417.5 L432.6 426.5" style="stroke-width:0.68;stroke:#111"/>
<path class="l" d="M416.0 419.3 L432.6 428.2" style="stroke-width:0.68;stroke:#111"/>
<path class="l" d="M416.0 421.0 L432.6 430.0" style="stroke-width:0.68;stroke:#111"/>
<path class="l" d="M416.0 422.8 L432.6 431.7" style="stroke-width:0.68;stroke:#111"/>
<path class="l" d="M416.0 424.5 L432.6 433.4" style="stroke-width:0.68;stroke:#111"/>
<path class="l" d="M416.0 426.2 L432.6 435.2" style="stroke-width:0.68;stroke:#111"/>
<path class="l" d="M416.0 428.0 L432.6 436.9" style="stroke-width:0.68;stroke:#111"/>
<path class="l" d="M433.4 427.5 L457.0 415.1" style="stroke-width:0.68;stroke:#111"/>
<path class="l" d="M433.4 429.2 L457.0 416.8" style="stroke-width:0.68;stroke:#111"/>
<path class="l" d="M433.4 431.0 L457.0 418.5" style="stroke-width:0.68;stroke:#111"/>
<path class="l" d="M433.4 432.7 L457.0 420.3" style="stroke-width:0.68;stroke:#111"/>
<path class="l" d="M433.4 434.4 L457.0 422.0" style="stroke-width:0.68;stroke:#111"/>
<path class="l" d="M433.4 436.2 L457.0 423.8" style="stroke-width:0.68;stroke:#111"/>
<path class="l" d="M433.4 437.9 L457.0 425.5" style="stroke-width:0.68;stroke:#111"/>
<path class="l" d="M433.4 439.7 L457.0 427.2" style="stroke-width:0.68;stroke:#111"/>
<path class="l" d="M433.4 441.4 L457.0 429.0" style="stroke-width:0.68;stroke:#111"/>
<path class="l" d="M433.4 443.1 L457.0 430.7" style="stroke-width:0.68;stroke:#111"/>
<path class="l" d="M433.4 444.9 L457.0 432.5" style="stroke-width:0.68;stroke:#111"/>
<path class="l" d="M433.4 446.6 L457.0 434.2" style="stroke-width:0.68;stroke:#111"/>
<path class="l" d="M433.4 448.3 L457.0 435.9" style="stroke-width:0.68;stroke:#111"/>
<path class="l" d="M433.4 450.1 L457.0 437.7" style="stroke-width:0.68;stroke:#111"/>
<path class="l" d="M433.4 451.8 L457.0 439.4" style="stroke-width:0.68;stroke:#111"/>
<path class="l" d="M433.4 453.6 L457.0 441.1" style="stroke-width:0.68;stroke:#111"/>
<path class="l" d="M433.4 455.3 L457.0 442.9" style="stroke-width:0.68;stroke:#111"/>
<path class="l" d="M433.0 427.3 L433.0 461.3"/>
<path class="p" d="M414.3 429.0 L418.9 426.9 L433.8 434.8 L433.8 446.4 L428.8 448.8 L414.3 439.7Z"/>
<path class="l" d="M414.3 430.2 L428.8 438.5" style="stroke-width:0.68;stroke:#111"/>
<path class="l" d="M414.3 431.9 L428.8 440.1" style="stroke-width:0.68;stroke:#111"/>
<path class="l" d="M414.3 433.5 L428.8 441.8" style="stroke-width:0.68;stroke:#111"/>
<path class="l" d="M414.3 435.2 L428.8 443.5" style="stroke-width:0.68;stroke:#111"/>
<path class="l" d="M414.3 436.8 L428.8 445.1" style="stroke-width:0.68;stroke:#111"/>
<path class="l" d="M414.3 438.5 L428.8 446.8" style="stroke-width:0.68;stroke:#111"/>
<path class="l" d="M414.3 440.1 L428.8 448.4" style="stroke-width:0.68;stroke:#111"/>
<path class="l" d="M428.8 438.1 L428.8 448.8"/>
<path class="l" d="M428.8 438.1 L433.8 435.2"/>
<path class="lt" d="M418.9 426.9 L428.8 431.9 L433.8 429.8"/>
<path class="l" d="M428.8 449.7 L433.0 451.3" style="stroke-width:0.68;stroke:#111"/>
<path class="l" d="M429.2 451.3 L433.0 453.0" style="stroke-width:0.68;stroke:#111"/>
<path class="l" d="M429.5 453.0 L433.0 454.6" style="stroke-width:0.68;stroke:#111"/>
<path class="l" d="M429.8 454.6 L433.0 456.3" style="stroke-width:0.68;stroke:#111"/>
<path class="l" d="M430.2 456.3 L433.0 457.9" style="stroke-width:0.68;stroke:#111"/>
<path class="l" d="M430.5 457.9 L433.0 459.6" style="stroke-width:0.68;stroke:#111"/>
<path class="l" d="M430.8 459.6 L433.0 461.3" style="stroke-width:0.68;stroke:#111"/>
<path class="p" d="M416.0 408.3 L426.8 402.9 L432.1 405.8 L436.3 405.0 L441.3 403.7 L457.0 412.0 L457.8 414.1 L454.5 416.6 L450.4 414.5 L448.7 417.8 L453.7 420.7 L444.6 425.7 L431.3 419.0 L425.5 416.6 L416.0 409.1Z"/>
<path class="p" d="M425.1 408.7 L428.8 407.0 L438.8 411.6 L435.0 413.7Z"/>
<ellipse class="pd" cx="428.8" cy="408.9" rx="1.8" ry="1.2" transform="rotate(10.0 428.8 408.9)"/>
<path class="l" d="M433.4 412.4 L435.5 413.7"/>
<path class="p" d="M423.5 419.5 L428.0 418.0 L437.1 422.8 L437.5 427.3 L433.8 429.0 L428.8 427.3Z"/>
<ellipse class="p" cx="426.5" cy="423.2" rx="4.1" ry="5.1" transform="rotate(-10.0 426.5 423.2)" style="stroke-width:1.1"/>
<ellipse class="pd" cx="426.8" cy="423.3" rx="2.7" ry="3.6" transform="rotate(-10.0 426.8 423.3)"/>
<path class="lt" d="M431.3 420.7 L437.1 424.0"/>
<path class="p" d="M432.1 460.4 L453.7 448.8 L458.0 449.7 L457.0 453.0 L440.4 463.7 L434.6 463.9Z"/>
<ellipse class="p" cx="435.9" cy="459.8" rx="1.8" ry="1.2" transform="rotate(0.0 435.9 459.8)"/>
<path class="l" d="M442.9 461.7 L457.0 453.0" style="stroke-width:1.3"/>
<path class="p" d="M411.9 441.4 L414.8 439.7 L418.9 442.2 L432.1 459.6 L431.3 464.4 L428.0 465.4 L418.9 459.6 L413.9 449.7Z"/>
<path class="l" d="M413.5 442.2 L415.2 441.4 L418.5 443.9 L430.1 459.6 L429.7 463.3 L428.0 463.7 L420.1 458.4 L415.2 449.7Z"/>
<ellipse class="p" cx="421.0" cy="453.0" rx="2.2" ry="3.0" transform="rotate(-30.0 421.0 453.0)"/>
<ellipse class="p" cx="414.3" cy="443.2" rx="0.7" ry="1.0" transform="rotate(0.0 414.3 443.2)"/>
<ellipse class="p" cx="428.7" cy="462.1" rx="1.1" ry="1.3" transform="rotate(0.0 428.7 462.1)"/>
<ellipse class="p" cx="424.9" cy="460.8" rx="1.1" ry="1.3" transform="rotate(0.0 424.9 460.8)"/>
<ellipse class="p" cx="421.8" cy="458.4" rx="1.0" ry="1.2" transform="rotate(0.0 421.8 458.4)"/>
<ellipse class="p" cx="418.1" cy="446.4" rx="1.0" ry="1.5" transform="rotate(0.0 418.1 446.4)"/>
<!-- c2_gasket_rings.svg -->
<path class="p" d="M410.1 481.6 L412.8 479.0 L432.8 467.6 L437.5 467.6 L456.9 478.6 L457.5 482.3 L436.2 495.6 L432.2 496.3 L411.5 484.3Z"/>
<path class="p" d="M445.0 482.0 C444.9 482.5 444.3 483.1 443.8 483.6 C443.3 484.1 442.6 484.4 442.1 484.8 C441.6 485.3 441.1 485.6 440.7 486.1 C440.2 486.5 439.8 487.1 439.2 487.5 C438.6 487.9 437.8 488.4 437.0 488.6 C436.2 488.9 435.1 488.9 434.2 488.8 C433.3 488.7 432.4 488.4 431.6 488.0 C430.8 487.7 430.3 487.3 429.6 487.0 C429.0 486.6 428.4 486.4 427.7 486.1 C427.0 485.8 426.1 485.5 425.4 485.2 C424.8 484.8 424.0 484.3 423.6 483.8 C423.3 483.2 423.2 482.5 423.3 482.0 C423.5 481.4 424.1 480.8 424.6 480.3 C425.1 479.9 425.8 479.5 426.3 479.1 C426.8 478.7 427.2 478.3 427.7 477.8 C428.2 477.4 428.5 476.9 429.1 476.4 C429.7 476.0 430.5 475.5 431.4 475.3 C432.2 475.1 433.3 475.0 434.2 475.1 C435.1 475.2 436.0 475.6 436.8 475.9 C437.5 476.2 438.1 476.6 438.7 477.0 C439.4 477.3 440.0 477.5 440.7 477.8 C441.4 478.1 442.2 478.4 442.9 478.8 C443.6 479.2 444.4 479.6 444.7 480.2 C445.1 480.7 445.2 481.4 445.0 482.0Z"/>
<ellipse class="p" cx="415.5" cy="481.6" rx="1.0" ry="0.8" transform="rotate(0.0 415.5 481.6)"/>
<ellipse class="p" cx="434.8" cy="470.3" rx="1.0" ry="0.8" transform="rotate(0.0 434.8 470.3)"/>
<ellipse class="p" cx="452.9" cy="481.0" rx="1.0" ry="0.8" transform="rotate(0.0 452.9 481.0)"/>
<ellipse class="p" cx="433.5" cy="493.3" rx="1.0" ry="0.8" transform="rotate(0.0 433.5 493.3)"/>
<ellipse class="p" cx="436.8" cy="507.0" rx="11.7" ry="6.7" transform="rotate(-4.0 436.8 507.0)" style="stroke-width:1.4;stroke:#111"/>
<ellipse class="p" cx="436.8" cy="507.0" rx="10.5" ry="5.7" transform="rotate(-4.0 436.8 507.0)" style="stroke-width:0.4"/>
<ellipse class="p" cx="436.8" cy="522.0" rx="11.7" ry="6.7" transform="rotate(-4.0 436.8 522.0)" style="stroke-width:1.4;stroke:#111"/>
<ellipse class="p" cx="436.8" cy="522.0" rx="10.5" ry="5.7" transform="rotate(-4.0 436.8 522.0)" style="stroke-width:0.4"/>
<!-- c3_piston_crank.svg -->
<path class="p" d="M424.5 540.1 C424.1 541.3 425.2 539.9 425.5 542.5 C425.9 545.2 425.1 552.8 426.5 556.1 C428.0 559.4 431.6 561.6 434.1 562.4 C436.6 563.2 439.0 562.1 441.6 560.7 C444.1 559.4 447.9 557.5 449.4 554.1 C450.8 550.8 450.6 543.7 450.0 540.6 C449.4 537.4 447.9 536.4 445.7 535.1 C443.6 533.8 440.0 532.9 437.1 532.9 C434.2 532.9 430.4 533.9 428.3 535.1 C426.2 536.3 425.0 538.8 424.5 540.1Z"/>
<ellipse class="p" cx="437.1" cy="540.1" rx="12.7" ry="7.0" transform="rotate(-4.0 437.1 540.1)"/>
<path class="l" d="M424.9 542.9 C425.9 543.8 428.4 547.3 430.8 548.3 C433.2 549.4 436.3 549.6 439.1 549.2 C441.9 548.8 445.5 547.0 447.4 545.9 C449.2 544.7 449.6 542.8 450.0 542.2"/>
<path class="l" d="M425.2 545.0 C426.1 545.9 428.5 549.4 430.8 550.5 C433.1 551.5 436.3 551.8 439.1 551.3 C441.9 550.9 445.6 549.0 447.4 547.8 C449.2 546.7 449.4 544.8 449.9 544.2"/>
<path class="lt" d="M425.5 547.2 C426.4 548.1 428.7 551.5 430.8 552.5 C432.9 553.5 437.0 553.2 438.3 553.3"/>
<path class="p" d="M438.8 550.5 L444.9 548.3 L448.2 549.2 L448.2 553.8 L441.6 555.8 L438.8 555.0Z"/>
<ellipse class="p" cx="445.7" cy="551.2" rx="1.8" ry="2.3" transform="rotate(0.0 445.7 551.2)"/>
<ellipse class="p" cx="440.4" cy="553.3" rx="1.0" ry="1.5" transform="rotate(0.0 440.4 553.3)"/>
<ellipse class="pk" cx="431.3" cy="540.1" rx="0.3" ry="0.3" transform="rotate(0.0 431.3 540.1)"/>
<ellipse class="p" cx="421.1" cy="539.6" rx="1.5" ry="2.6" transform="rotate(25.0 421.1 539.6)" style="stroke-width:1.2"/>
<path class="p" d="M449.7 556.1 L453.0 553.5 L470.4 562.2 L469.9 566.4 L466.6 567.7 L450.0 558.9Z"/>
<ellipse class="p" cx="468.1" cy="565.1" rx="1.8" ry="2.3" transform="rotate(-20.0 468.1 565.1)"/>
<path class="lt" d="M452.2 558.1 L466.6 565.5"/>
<ellipse class="p" cx="470.9" cy="567.7" rx="1.8" ry="2.3" transform="rotate(0.0 470.9 567.7)" style="stroke-width:1.2"/>
<ellipse class="pd" cx="447.2" cy="574.7" rx="3.3" ry="3.3" transform="rotate(0.0 447.2 574.7)"/>
<ellipse class="pk" cx="446.4" cy="574.3" rx="2.2" ry="2.5" transform="rotate(0.0 446.4 574.3)"/>
<path class="l" d="M445.4 571.8 L446.4 577.6" style="stroke:#555;stroke-width:0.5"/>
<path class="l" d="M446.4 571.8 L447.4 577.6" style="stroke:#555;stroke-width:0.5"/>
<path class="l" d="M447.4 571.8 L448.4 577.6" style="stroke:#555;stroke-width:0.5"/>
<path class="l" d="M448.4 571.8 L449.4 577.6" style="stroke:#555;stroke-width:0.5"/>
<path class="p" d="M410.0 595.1 L411.8 589.2 L427.4 596.0 L427.4 605.6Z"/>
<path class="pd" d="M409.4 591.9 L411.8 589.2 L415.2 590.8 L413.7 596.7 L410.0 595.1Z"/>
<path class="l" d="M418.7 593.3 L417.3 598.8"/>
<path class="lt" d="M422.3 595.1 L421.2 601.1"/>
<path class="l" d="M415.9 591.5 L419.6 593.0" style="stroke-width:1.5"/>
<path class="p" d="M427.4 596.5 C427.7 594.7 428.3 593.8 429.2 592.8 C430.0 591.9 431.5 591.2 432.4 591.0 C433.3 590.8 434.3 589.3 434.7 591.5 C435.0 593.6 435.0 601.1 434.7 603.8 C434.3 606.5 433.5 606.1 432.4 607.9 C431.2 609.7 429.3 613.0 427.8 614.7 C426.3 616.5 424.3 618.2 423.2 618.4 C422.2 618.5 421.5 616.6 421.4 615.7 C421.3 614.7 422.0 613.7 422.8 612.5 C423.6 611.2 425.7 609.8 426.4 608.4 C427.2 606.9 427.2 605.8 427.4 603.8 C427.5 601.8 427.0 598.3 427.4 596.5Z"/>
<path class="p" d="M443.3 607.4 L459.7 616.1 L457.5 622.2 L441.0 613.8Z"/>
<path class="pd" d="M456.1 614.2 L459.7 616.1 L457.5 622.2 L454.7 620.7Z"/>
<path class="lt" d="M450.6 611.3 L448.6 617.9"/>
<path class="p" d="M447.9 608.2 L452.0 610.2 L451.5 611.3 L447.4 609.3Z"/>
<path class="p" d="M435.1 600.1 C435.6 598.7 436.0 597.8 436.9 597.0 C437.8 596.1 439.2 595.3 440.6 595.1 C442.0 595.0 444.0 595.4 445.1 596.0 C446.3 596.7 447.0 597.9 447.4 599.2 C447.8 600.5 447.7 602.3 447.4 603.8 C447.1 605.3 446.0 606.5 445.6 608.4 C445.2 610.2 445.5 612.8 445.1 614.7 C444.8 616.7 444.2 618.6 443.3 620.2 C442.4 621.8 441.0 623.5 439.7 624.3 C438.3 625.2 436.5 625.5 435.1 625.2 C433.7 625.0 432.7 623.8 431.5 623.0 C430.2 622.1 429.2 621.0 427.8 620.2 C426.4 619.5 423.2 619.3 423.2 618.4 C423.2 617.5 426.4 616.0 427.8 614.7 C429.2 613.5 430.4 612.6 431.5 611.1 C432.5 609.6 433.6 607.4 434.2 605.6 C434.8 603.8 434.7 601.6 435.1 600.1Z"/>
<path class="lt" d="M435.1 600.1 C435.3 601.1 436.3 603.8 436.5 605.6 C436.6 607.4 436.4 609.3 436.0 611.1 C435.6 612.9 435.0 614.6 434.2 616.6 C433.4 618.5 431.9 621.9 431.5 623.0"/>
<path class="lt" d="M438.3 599.2 C438.6 600.3 439.9 603.3 440.1 605.6 C440.4 607.9 440.2 610.6 439.7 612.9 C439.1 615.2 437.4 618.2 436.9 619.3"/>
<ellipse class="p" cx="442.4" cy="602.4" rx="1.6" ry="2.2" transform="rotate(0.0 442.4 602.4)"/>
<ellipse class="pg" cx="442.4" cy="602.4" rx="0.7" ry="1.0" transform="rotate(0.0 442.4 602.4)"/>
<path class="l" d="M421.4 615.7 C422.5 616.4 425.5 618.6 427.8 620.2 C430.1 621.8 433.9 624.4 435.1 625.2"/>
<path class="p" d="M434.2 573.7 L440.1 573.7 L440.4 595.1 L436.9 597.0 L435.1 600.1 L434.4 600.1Z"/>
<path class="lt" d="M435.8 575.5 L435.8 596.5"/>
<path class="lt" d="M438.8 575.5 L438.9 595.1"/>
<ellipse class="p" cx="437.4" cy="569.1" rx="5.3" ry="5.1" transform="rotate(0.0 437.4 569.1)"/>
<ellipse class="p" cx="438.4" cy="569.7" rx="3.3" ry="3.8" transform="rotate(0.0 438.4 569.7)"/>
<path class="lt" d="M435.1 566.8 C435.3 567.4 436.3 569.0 436.5 570.0 C436.6 571.1 436.1 572.7 436.0 573.2"/>
<ellipse class="p" cx="466.5" cy="624.1" rx="7.4" ry="9.0" transform="rotate(22.0 466.5 624.1)"/>
<ellipse class="pd" cx="467.5" cy="624.6" rx="4.9" ry="6.6" transform="rotate(22.0 467.5 624.6)"/>
<ellipse class="pg" cx="468.1" cy="624.9" rx="2.9" ry="4.7" transform="rotate(22.0 468.1 624.9)"/>
<path class="p" d="M471.1 634.3 L473.1 631.2 L478.0 626.0 L488.7 627.5 L492.6 626.0 L492.0 617.7 L495.6 615.3 L505.3 620.6 L510.7 626.0 L511.2 629.4 L509.3 631.9 L509.7 636.3 L507.8 639.2 L504.4 640.7 L509.7 643.6 L510.2 646.1 L507.8 647.5 L503.4 646.1 L500.9 650.9 L496.1 652.9 L495.9 658.3 L493.6 660.2 L490.7 658.8 L489.2 659.7 L487.3 660.2 L484.3 660.9 L476.5 656.0 L476.0 654.9 L471.6 644.3Z"/>
<path class="p" d="M473.1 631.2 L478.0 626.0 L494.1 628.5 L498.0 628.0 L488.7 636.5Z"/>
<ellipse class="pd" cx="485.8" cy="630.6" rx="1.2" ry="0.8" transform="rotate(0.0 485.8 630.6)"/>
<path class="p" d="M492.0 617.7 L495.6 615.3 L505.3 620.6 L505.8 624.1 L501.9 626.0 L498.0 628.0 L494.1 628.5 L492.6 626.0Z"/>
<path class="l" d="M495.6 615.3 L496.1 623.6 L498.0 628.0"/>
<path class="lt" d="M496.1 623.6 L505.3 620.6"/>
<ellipse class="pk" cx="500.7" cy="621.8" rx="0.8" ry="0.6" transform="rotate(0.0 500.7 621.8)"/>
<path class="l" d="M471.1 634.3 L487.3 639.4 L488.7 636.5"/>
<path class="l" d="M487.3 639.4 L487.7 648.0"/>
<path class="lt" d="M474.1 637.3 L474.6 644.1 L479.4 647.0"/>
<path class="l" d="M478.5 638.7 L478.9 646.1"/>
<path class="l" d="M479.4 641.2 L486.3 644.6" style="stroke-width:1.4"/>
<path class="l" d="M471.6 644.3 L477.0 648.0 L477.5 650.9 L476.0 654.9"/>
<path class="l" d="M477.5 650.9 L484.3 655.8 L487.3 660.2"/>
<ellipse class="p" cx="498.0" cy="643.6" rx="5.7" ry="7.2" transform="rotate(-15.0 498.0 643.6)"/>
<ellipse class="p" cx="498.5" cy="643.9" rx="4.1" ry="5.5" transform="rotate(-15.0 498.5 643.9)"/>
<ellipse class="pg" cx="499.0" cy="644.1" rx="2.9" ry="4.3" transform="rotate(-15.0 499.0 644.1)"/>
<path class="l" d="M489.2 637.3 C489.7 636.9 490.8 635.5 492.1 635.3 C493.4 635.1 495.6 635.5 497.0 635.8 C498.5 636.1 500.3 637.0 500.9 637.3"/>
<ellipse class="p" cx="508.3" cy="628.5" rx="1.7" ry="2.0" transform="rotate(0.0 508.3 628.5)"/>
<ellipse class="p" cx="508.3" cy="628.5" rx="0.8" ry="1.0" transform="rotate(0.0 508.3 628.5)"/>
<ellipse class="p" cx="506.8" cy="636.1" rx="2.0" ry="2.3" transform="rotate(0.0 506.8 636.1)"/>
<ellipse class="p" cx="506.8" cy="636.1" rx="1.0" ry="1.2" transform="rotate(0.0 506.8 636.1)"/>
<ellipse class="p" cx="487.3" cy="639.9" rx="1.7" ry="2.0" transform="rotate(0.0 487.3 639.9)"/>
<ellipse class="p" cx="487.3" cy="639.9" rx="0.8" ry="1.0" transform="rotate(0.0 487.3 639.9)"/>
<ellipse class="p" cx="486.5" cy="648.0" rx="2.0" ry="2.3" transform="rotate(0.0 486.5 648.0)"/>
<ellipse class="p" cx="486.5" cy="648.0" rx="1.0" ry="1.2" transform="rotate(0.0 486.5 648.0)"/>
<ellipse class="p" cx="486.8" cy="657.0" rx="1.8" ry="2.2" transform="rotate(0.0 486.8 657.0)"/>
<ellipse class="p" cx="486.8" cy="657.0" rx="0.9" ry="1.1" transform="rotate(0.0 486.8 657.0)"/>
<ellipse class="p" cx="493.6" cy="655.5" rx="1.8" ry="3.3" transform="rotate(0.0 493.6 655.5)"/>
<ellipse class="p" cx="493.6" cy="655.5" rx="0.9" ry="1.7" transform="rotate(0.0 493.6 655.5)"/>
<ellipse class="p" cx="507.8" cy="645.3" rx="1.4" ry="1.8" transform="rotate(0.0 507.8 645.3)"/>
<ellipse class="p" cx="507.8" cy="645.3" rx="0.7" ry="0.9" transform="rotate(0.0 507.8 645.3)"/>
<path class="l" d="M503.4 625.0 L507.8 626.7"/>
<path class="l" d="M501.9 633.3 L505.8 634.1"/>
<path class="l" d="M503.9 642.6 L507.3 643.9"/>
<ellipse class="p" cx="514.6" cy="652.4" rx="5.5" ry="6.5" transform="rotate(22.0 514.6 652.4)"/>
<ellipse class="pd" cx="515.4" cy="652.9" rx="3.5" ry="4.7" transform="rotate(22.0 515.4 652.9)"/>
<ellipse class="pg" cx="516.0" cy="653.3" rx="2.0" ry="3.1" transform="rotate(22.0 516.0 653.3)"/>
<!-- d1_starter.svg -->
<path class="l" d="M165.3 370.2 C165.7 371.5 167.9 375.5 168.0 377.9 C168.2 380.2 167.4 382.4 166.2 384.2 C165.0 386.1 163.4 387.9 160.7 388.8 C158.0 389.7 153.7 390.1 149.8 389.7 C145.8 389.4 140.2 386.8 137.0 386.6 C133.8 386.5 132.3 387.7 130.6 388.8 C128.9 389.9 127.7 391.9 126.9 393.4 C126.2 394.8 126.2 396.9 126.0 397.6" style="stroke-width:1.9;stroke:#222"/>
<path class="l" d="M165.3 370.2 C165.7 371.5 167.9 375.5 168.0 377.9 C168.2 380.2 167.4 382.4 166.2 384.2 C165.0 386.1 163.4 387.9 160.7 388.8 C158.0 389.7 153.7 390.1 149.8 389.7 C145.8 389.4 140.2 386.8 137.0 386.6 C133.8 386.5 132.3 387.7 130.6 388.8 C128.9 389.9 127.7 391.9 126.9 393.4 C126.2 394.8 126.2 396.9 126.0 397.6" style="stroke-width:0.6;stroke:#fff"/>
<path class="p" d="M146.4 363.0 L147.6 361.1 L173.8 352.5 L176.2 353.3 L176.9 356.0 L175.8 357.6 L165.6 363.8 L166.8 370.1 L163.6 371.6 L159.3 366.6 L150.7 369.3 L148.4 368.1Z"/>
<path class="l" d="M147.8 365.0 L175.8 355.1"/>
<path class="lt" d="M147.6 361.1 L147.8 365.0 L148.8 368.1"/>
<path class="lt" d="M159.3 366.6 L165.6 363.8"/>
<path class="l" d="M157.4 357.6 C157.2 356.9 156.3 355.0 156.2 353.6 C156.1 352.3 157.1 350.8 157.0 349.7 C156.9 348.7 156.2 347.4 155.8 347.4 C155.4 347.4 154.6 348.8 154.6 349.7 C154.6 350.6 155.6 352.3 155.8 352.9" style="stroke-width:1.1"/>
<ellipse class="p" cx="157.4" cy="347.8" rx="1.1" ry="1.3" transform="rotate(0.0 157.4 347.8)"/>
<ellipse class="lt" cx="156.6" cy="359.5" rx="1.1" ry="1.4" transform="rotate(0.0 156.6 359.5)"/>
<path class="l" d="M160.9 356.4 L161.7 359.1"/>
<path class="l" d="M159.0 357.2 L159.9 360.1"/>
<path class="p" d="M130.2 394.4 C132.0 394.1 131.8 395.6 133.4 396.8 C135.0 398.1 137.9 400.0 139.8 402.1 C141.7 404.1 143.8 406.7 145.0 409.3 C146.3 411.8 147.0 414.5 147.2 417.3 C147.4 420.1 147.0 423.1 146.2 426.2 C145.5 429.3 144.4 432.7 142.6 435.8 C140.9 438.9 138.4 442.1 135.8 444.7 C133.2 447.2 130.0 449.6 126.9 451.1 C123.9 452.6 120.2 453.8 117.3 453.7 C114.3 453.5 111.6 452.2 109.3 450.3 C106.9 448.4 104.7 445.3 103.2 442.3 C101.8 439.2 100.8 435.2 100.6 431.8 C100.3 428.5 100.7 425.2 101.6 422.2 C102.5 419.1 104.1 416.1 106.0 413.3 C108.0 410.5 110.6 407.7 113.3 405.3 C116.0 402.9 119.3 400.7 122.1 398.8 C124.9 397.0 128.3 394.8 130.2 394.4Z"/>
<path class="pd" d="M124.5 398.8 C122.5 399.5 117.8 402.7 114.9 405.3 C112.0 407.8 109.2 411.2 107.2 414.1 C105.3 417.1 103.9 420.0 103.0 423.0 C102.1 425.9 101.6 428.7 101.9 431.8 C102.1 434.9 103.1 438.6 104.4 441.4 C105.8 444.3 108.5 447.6 110.1 449.1 C111.7 450.6 114.3 451.4 114.1 450.3 C113.9 449.2 110.2 445.2 108.9 442.3 C107.5 439.3 106.3 435.7 106.0 432.6 C105.8 429.5 106.4 426.6 107.2 423.8 C108.1 420.9 109.4 418.5 111.3 415.7 C113.1 413.0 115.9 409.7 118.5 407.3 C121.1 404.9 125.9 402.7 126.9 401.3 C127.9 399.8 126.5 398.2 124.5 398.8Z"/>
<path class="l" d="M119.1 402.9 L122.1 404.9" style="stroke-width:1.3"/>
<path class="l" d="M106.4 414.9 L110.9 416.9" style="stroke-width:1.3"/>
<path class="l" d="M102.0 427.8 L106.7 428.4" style="stroke-width:1.3"/>
<path class="l" d="M105.6 444.7 L110.1 441.4" style="stroke-width:1.3"/>
<path class="p" d="M130.2 400.5 C131.9 400.6 134.6 402.1 136.6 403.7 C138.5 405.3 140.6 407.7 141.8 410.1 C143.0 412.5 143.7 415.3 143.8 418.1 C144.0 420.9 143.5 424.0 142.6 427.0 C141.7 429.9 140.4 433.1 138.6 435.8 C136.8 438.5 134.2 441.1 131.8 443.1 C129.3 445.0 126.3 446.7 123.7 447.5 C121.2 448.3 118.6 448.6 116.5 447.9 C114.4 447.1 112.5 445.2 111.3 443.1 C110.0 440.9 109.1 437.8 108.9 435.0 C108.7 432.2 109.2 429.1 110.1 426.2 C110.9 423.2 112.3 420.3 114.1 417.3 C115.8 414.4 118.5 410.9 120.5 408.5 C122.5 406.1 124.5 404.2 126.1 402.9 C127.7 401.5 128.4 400.3 130.2 400.5Z"/>
<path class="l" d="M130.2 406.1 C131.2 406.9 132.7 408.9 133.4 410.9 C134.0 412.9 134.4 415.6 134.2 418.1 C134.0 420.7 133.2 423.5 132.2 426.2 C131.1 428.9 129.4 431.9 127.7 434.2 C126.1 436.5 124.0 438.6 122.1 439.8 C120.2 441.0 118.0 441.7 116.5 441.4 C114.9 441.2 113.7 439.8 112.9 438.2 C112.1 436.6 111.6 434.2 111.7 431.8 C111.7 429.4 112.3 426.4 113.3 423.8 C114.2 421.1 115.7 418.1 117.3 415.7 C118.9 413.3 121.2 410.9 122.9 409.3 C124.6 407.7 126.1 406.6 127.3 406.1 C128.5 405.5 129.1 405.3 130.2 406.1Z"/>
<path class="lt" d="M132.2 403.7 C132.8 404.7 135.0 407.7 135.8 410.1 C136.5 412.5 136.8 415.3 136.6 418.1 C136.4 420.9 135.6 424.2 134.6 427.0 C133.5 429.8 131.8 432.6 130.2 435.0 C128.5 437.4 126.4 439.8 124.5 441.4 C122.7 443.1 119.8 444.1 118.9 444.7"/>
<path class="p" d="M115.3 421.8 L117.3 419.3 L125.7 423.0 L126.5 426.6 L124.5 429.0 L116.1 425.4Z"/>
<ellipse class="p" cx="124.4" cy="426.0" rx="1.9" ry="2.9" transform="rotate(-20.0 124.4 426.0)"/>
<ellipse class="pg" cx="124.5" cy="426.0" rx="1.0" ry="1.6" transform="rotate(-20.0 124.5 426.0)"/>
<path class="p" d="M113.3 425.4 L115.3 421.8 L116.1 425.4 L121.3 427.8 L119.7 430.2 L114.1 428.6Z"/>
<path class="l" d="M118.1 416.5 L121.3 414.1 L123.7 416.5 L122.1 420.5"/>
<path class="l" d="M132.6 422.2 L126.9 438.2" style="stroke-width:1.0;stroke:#111"/>
<path class="l" d="M133.9 421.7 L128.2 437.1" style="stroke-width:1.0;stroke:#111"/>
<path class="l" d="M135.1 421.2 L129.5 436.0" style="stroke-width:1.0;stroke:#111"/>
<path class="l" d="M136.4 420.7 L130.8 434.9" style="stroke-width:1.0;stroke:#111"/>
<path class="l" d="M137.7 420.2 L132.1 433.7" style="stroke-width:1.0;stroke:#111"/>
<path class="l" d="M139.0 419.7 L133.4 432.6" style="stroke-width:1.0;stroke:#111"/>
<path class="lk" d="M129.8 429.4 L143.8 434.2" style="stroke-width:1.5"/>
<ellipse class="p" cx="143.4" cy="416.9" rx="1.9" ry="2.4" transform="rotate(0.0 143.4 416.9)"/>
<ellipse class="p" cx="143.6" cy="417.1" rx="1.0" ry="1.3" transform="rotate(0.0 143.6 417.1)"/>
<ellipse class="p" cx="126.1" cy="445.6" rx="2.1" ry="2.3" transform="rotate(0.0 126.1 445.6)"/>
<ellipse class="p" cx="126.3" cy="445.6" rx="1.0" ry="1.2" transform="rotate(0.0 126.3 445.6)"/>
<ellipse class="p" cx="110.9" cy="435.8" rx="1.3" ry="2.1" transform="rotate(0.0 110.9 435.8)"/>
<ellipse class="p" cx="126.5" cy="408.1" rx="1.4" ry="1.1" transform="rotate(0.0 126.5 408.1)"/>
<ellipse class="p" cx="136.6" cy="407.3" rx="1.6" ry="1.1" transform="rotate(0.0 136.6 407.3)"/>
<ellipse class="pd" cx="116.9" cy="446.3" rx="1.6" ry="1.1" transform="rotate(0.0 116.9 446.3)"/>
<path class="l" d="M136.6 408.5 L139.8 414.1 L141.8 414.1"/>
<path class="l" d="M133.4 406.1 L139.8 408.5"/>
<path class="p" d="M124.5 398.4 L128.5 394.8 L131.0 394.0 L133.4 396.8 L135.8 400.5 L130.2 400.0Z"/>
<ellipse class="pd" cx="153.4" cy="442.3" rx="10.8" ry="16.4" transform="rotate(27.0 153.4 442.3)" style="fill:#b4b4b4;stroke-width:1.3"/>
<ellipse class="l" cx="153.6" cy="442.1" rx="8.2" ry="13.1" transform="rotate(27.0 153.6 442.1)" style="stroke:#d8d8d8;stroke-width:0.8"/>
<ellipse class="l" cx="153.8" cy="441.8" rx="5.3" ry="9.4" transform="rotate(27.0 153.8 441.8)" style="stroke:#999;stroke-width:0.6"/>
<ellipse class="pg" cx="154.2" cy="443.5" rx="2.6" ry="5.3" transform="rotate(27.0 154.2 443.5)" style="stroke:#ccc;stroke-width:0.4"/>
<ellipse class="l" cx="150.1" cy="449.3" rx="2.3" ry="4.7" transform="rotate(27.0 150.1 449.3)" style="stroke:#ddd;stroke-width:0.7"/>
<ellipse class="p" cx="173.3" cy="452.9" rx="13.1" ry="17.6" transform="rotate(22.0 173.3 452.9)" style="stroke-width:1.2"/>
<path class="l" d="M165.3 440.0 C164.9 441.7 162.7 447.2 162.4 450.5 C162.1 453.8 162.7 457.2 163.6 459.9 C164.5 462.6 167.0 465.8 167.7 466.9"/>
<ellipse class="p" cx="175.9" cy="453.1" rx="8.5" ry="12.7" transform="rotate(22.0 175.9 453.1)" style="stroke-width:1.2"/>
<ellipse class="pg" cx="176.5" cy="453.1" rx="6.8" ry="10.6" transform="rotate(22.0 176.5 453.1)"/>
<ellipse class="p" cx="175.9" cy="452.9" rx="4.2" ry="6.6" transform="rotate(22.0 175.9 452.9)"/>
<ellipse class="pd" cx="175.7" cy="453.1" rx="2.3" ry="3.8" transform="rotate(22.0 175.7 453.1)"/>
<ellipse class="pk" cx="175.7" cy="453.1" rx="1.2" ry="1.9" transform="rotate(22.0 175.7 453.1)"/>
<path class="l" d="M171.2 445.2 L173.6 448.8"/>
<path class="l" d="M181.2 458.7 L178.3 456.4"/>
<path class="l" d="M171.2 459.3 L173.8 456.6"/>
<path class="lk" d="M182.9 460.5 L187.6 462.8"/>
<path class="pk" d="M186.5 462.0 C186.8 460.7 188.5 459.3 189.8 459.0 C191.0 458.6 192.1 458.9 194.1 459.9 C196.1 460.9 200.3 463.6 201.7 465.2 C203.1 466.8 202.8 468.1 202.4 469.3 C202.0 470.5 200.7 472.2 199.4 472.6 C198.1 473.0 196.6 472.6 194.7 471.6 C192.7 470.7 189.0 468.6 187.6 466.9 C186.3 465.3 186.1 463.3 186.5 462.0Z"/>
<path class="l" d="M188.6 460.5 C188.3 461.0 187.1 462.4 186.9 463.4 C186.8 464.4 187.5 466.1 187.6 466.6" style="stroke:#999;stroke-width:0.4"/>
<path class="l" d="M190.0 461.3 C189.7 461.8 188.5 463.2 188.3 464.2 C188.2 465.3 188.9 466.9 189.1 467.4" style="stroke:#999;stroke-width:0.4"/>
<path class="l" d="M191.4 462.1 C191.1 462.6 189.9 464.1 189.8 465.1 C189.6 466.1 190.3 467.7 190.5 468.2" style="stroke:#999;stroke-width:0.4"/>
<path class="l" d="M192.8 463.0 C192.5 463.4 191.3 464.9 191.2 465.9 C191.0 466.9 191.8 468.5 191.9 469.1" style="stroke:#999;stroke-width:0.4"/>
<path class="l" d="M194.2 463.8 C193.9 464.3 192.7 465.7 192.6 466.7 C192.4 467.7 193.2 469.4 193.3 469.9" style="stroke:#999;stroke-width:0.4"/>
<path class="l" d="M195.6 464.6 C195.4 465.1 194.1 466.5 194.0 467.5 C193.8 468.6 194.6 470.2 194.7 470.7" style="stroke:#999;stroke-width:0.4"/>
<path class="l" d="M197.0 465.4 C196.8 465.9 195.5 467.3 195.4 468.4 C195.2 469.4 196.0 471.0 196.1 471.5" style="stroke:#999;stroke-width:0.4"/>
<path class="l" d="M198.4 466.2 C198.2 466.7 197.0 468.2 196.8 469.2 C196.6 470.2 197.4 471.8 197.5 472.3" style="stroke:#999;stroke-width:0.4"/>
<path class="l" d="M199.8 467.1 C199.6 467.6 198.4 469.0 198.2 470.0 C198.1 471.0 198.8 472.6 198.9 473.2" style="stroke:#999;stroke-width:0.4"/>
<path class="lk" d="M201.1 470.5 L205.2 472.8"/>
<path class="p" d="M202.9 475.2 C203.1 473.4 203.7 471.0 204.7 469.3 C205.6 467.6 207.4 465.9 208.8 465.2 C210.1 464.5 211.7 464.5 212.9 465.2 C214.1 465.9 215.0 467.6 215.8 469.3 C216.6 471.0 217.2 473.5 217.6 475.2 C218.0 476.8 218.5 478.1 218.2 479.3 C217.9 480.4 217.0 481.4 215.8 482.2 C214.6 483.0 212.7 483.8 211.1 484.0 C209.6 484.2 207.7 484.1 206.4 483.4 C205.2 482.7 204.1 481.2 203.5 479.9 C202.9 478.5 202.7 476.9 202.9 475.2Z"/>
<ellipse class="p" cx="207.4" cy="475.9" rx="4.5" ry="8.5" transform="rotate(-20.0 207.4 475.9)"/>
<path class="p" d="M211.1 471.6 C211.7 470.6 213.6 471.5 214.6 472.2 C215.7 472.9 217.2 474.5 217.6 475.8 C218.0 477.0 217.7 479.0 217.0 479.9 C216.3 480.7 214.4 481.2 213.5 481.0 C212.5 480.8 211.5 480.3 211.1 478.7 C210.7 477.1 210.5 472.7 211.1 471.6Z"/>
<ellipse class="lt" cx="214.4" cy="476.9" rx="1.9" ry="2.8" transform="rotate(0.0 214.4 476.9)"/>
<path class="l" d="M217.6 478.5 L222.9 481.6" style="stroke-width:1.5"/>
<ellipse class="p" cx="224.2" cy="484.1" rx="2.2" ry="2.0" transform="rotate(0.0 224.2 484.1)"/>
<ellipse class="pd" cx="224.2" cy="484.1" rx="1.1" ry="0.9" transform="rotate(0.0 224.2 484.1)"/>
<!-- d2_fanhousing.svg -->
<path class="p" d="M235.4 457.2 L240.8 451.7 L250.3 444.9 L261.2 439.5 L273.4 438.8 L285.7 437.5 L293.8 437.5 L297.9 440.2 L304.7 454.5 L306.7 465.3 L305.4 477.6 L302.0 483.0 L288.4 491.1 L285.7 495.2 L282.9 506.1 L278.9 514.2 L274.8 519.7 L268.0 525.1 L257.1 530.5 L250.3 534.6 L247.6 537.3 L242.2 540.1 L238.1 538.7 L236.7 534.6 L232.7 530.5 L227.2 527.8 L223.2 522.4 L221.1 517.0 L223.2 506.1 L226.5 489.8 L229.9 474.8 L232.7 464.0Z"/>
<path class="l" d="M235.4 457.2 C236.3 456.3 238.3 453.8 240.8 451.7 C243.3 449.7 246.9 447.0 250.3 444.9 C253.7 442.9 257.3 440.5 261.2 439.5 C265.0 438.5 269.3 439.2 273.4 438.8 C277.5 438.5 282.3 437.7 285.7 437.5 C289.0 437.2 291.8 437.0 293.8 437.5 C295.8 437.9 297.2 439.7 297.9 440.2" style="stroke-width:1.1"/>
<path class="l" d="M221.1 517.0 C221.5 515.1 222.2 510.6 223.2 506.1 C224.1 501.6 225.4 495.0 226.5 489.8 C227.7 484.6 228.9 479.1 229.9 474.8 C231.0 470.5 231.8 466.9 232.7 464.0 C233.6 461.0 234.9 458.3 235.4 457.2" style="stroke-width:1.1"/>
<path class="pg" d="M276.8 443.6 L285.7 440.2 L295.2 439.5 L298.2 442.2 L304.0 455.8 L305.4 465.3 L304.0 470.8 L288.4 476.9 L285.7 474.8 L280.2 457.2Z"/>
<path class="l" d="M277.8 446.0 L296.5 440.6" style="stroke:#1a1a1a;stroke-width:1.5"/>
<path class="l" d="M278.9 449.6 L297.3 444.1" style="stroke:#1a1a1a;stroke-width:1.5"/>
<path class="l" d="M279.9 453.1 L298.2 447.7" style="stroke:#1a1a1a;stroke-width:1.5"/>
<path class="l" d="M281.0 456.6 L299.0 451.2" style="stroke:#1a1a1a;stroke-width:1.5"/>
<path class="l" d="M282.1 460.2 L299.8 454.7" style="stroke:#1a1a1a;stroke-width:1.5"/>
<path class="l" d="M283.2 463.7 L300.6 458.3" style="stroke:#1a1a1a;stroke-width:1.5"/>
<path class="l" d="M284.3 467.2 L301.4 461.8" style="stroke:#1a1a1a;stroke-width:1.5"/>
<path class="l" d="M285.4 470.8 L302.2 465.3" style="stroke:#1a1a1a;stroke-width:1.5"/>
<path class="l" d="M286.5 474.3 L303.0 468.9" style="stroke:#1a1a1a;stroke-width:1.5"/>
<path class="l" d="M288.4 476.9 L289.0 489.8"/>
<path class="l" d="M304.0 470.8 L302.0 483.0"/>
<path class="pd" d="M285.7 474.8 L288.4 476.9 L291.1 476.2 L290.4 481.6 L287.0 483.0Z"/>
<path class="l" d="M250.3 444.9 L255.8 461.0 L252.0 469.4"/>
<path class="l" d="M255.8 461.0 L274.8 450.4 L276.8 443.6"/>
<path class="l" d="M274.8 450.4 L282.9 474.8 L285.7 484.3 L285.7 495.2"/>
<path class="lt" d="M253.7 457.2 L273.4 446.3"/>
<path class="lt" d="M251.7 452.4 L272.1 442.2"/>
<path class="lt" d="M268.7 455.8 C269.7 459.0 273.5 468.5 274.8 474.8 C276.0 481.2 276.6 487.7 276.1 493.9 C275.7 500.0 273.4 506.3 272.1 511.5 C270.7 516.7 268.7 522.8 268.0 525.1"/>
<path class="lt" d="M274.8 450.4 C275.7 454.5 279.1 467.6 280.2 474.8 C281.3 482.1 281.8 487.3 281.6 493.9 C281.3 500.4 279.3 510.8 278.9 514.2"/>
<path class="lt" d="M255.8 466.7 L266.6 465.6"/>
<path class="lt" d="M272.1 474.8 L282.9 477.6"/>
<path class="lt" d="M268.0 510.2 L277.5 514.2"/>
<path class="l" d="M240.8 457.9 C240.2 459.6 238.6 463.6 237.4 468.0 C236.3 472.5 235.0 478.9 234.0 484.3 C233.0 489.8 232.1 495.7 231.3 500.7 C230.5 505.6 229.0 510.2 229.3 514.2 C229.5 518.3 232.1 523.3 232.7 525.1"/>
<path class="p" d="M240.1 458.5 L244.2 457.2 L248.3 459.2 L252.0 469.4 L244.2 464.0 L241.5 465.3Z"/>
<path class="l" d="M244.2 464.0 C243.6 465.8 241.8 469.9 240.8 474.8 C239.8 479.8 238.8 488.7 238.1 493.9 C237.4 499.1 237.0 504.0 236.7 506.1"/>
<path class="p" d="M242.2 474.8 C244.4 471.3 248.3 470.4 251.7 470.2 C255.1 470.0 259.7 470.9 262.6 473.5 C265.4 476.1 267.9 481.4 268.7 485.7 C269.5 490.0 268.6 495.0 267.3 499.3 C266.1 503.6 263.8 508.2 261.2 511.5 C258.6 514.8 254.5 518.1 251.7 519.0 C248.9 519.9 246.4 519.1 244.2 517.0 C242.1 514.8 239.8 510.4 238.8 506.1 C237.8 501.8 237.5 496.3 238.1 491.1 C238.7 485.9 239.9 478.3 242.2 474.8Z"/>
<path class="p" d="M244.2 477.6 C246.1 474.5 249.2 473.9 252.0 473.8 C254.7 473.6 258.3 474.8 260.5 476.9 C262.7 479.0 264.7 482.8 265.3 486.4 C265.8 490.0 265.0 494.9 263.9 498.6 C262.8 502.4 260.8 506.1 258.8 508.8 C256.7 511.5 253.6 514.2 251.4 514.9 C249.2 515.6 247.2 514.7 245.6 512.9 C243.9 511.1 242.3 507.6 241.5 504.0 C240.7 500.5 240.4 496.2 240.8 491.8 C241.3 487.4 242.4 480.6 244.2 477.6Z"/>
<ellipse class="p" cx="248.3" cy="478.9" rx="1.1" ry="1.6" transform="rotate(0.0 248.3 478.9)"/>
<ellipse class="p" cx="263.2" cy="487.7" rx="1.4" ry="1.9" transform="rotate(0.0 263.2 487.7)"/>
<ellipse class="p" cx="249.0" cy="515.6" rx="1.2" ry="1.5" transform="rotate(0.0 249.0 515.6)"/>
<path class="p" d="M259.8 485.7 L262.6 484.3 L264.6 487.1 L263.9 491.1 L260.5 490.5Z"/>
<path class="p" d="M236.7 506.1 L244.2 506.8 L246.5 511.5 L247.1 522.4 L248.3 533.3 L244.2 537.3 L240.8 538.7 L238.1 534.6 L235.4 525.1 L233.3 517.0 L234.0 508.8Z"/>
<path class="l" d="M247.6 523.8 C249.0 524.1 253.3 525.8 255.8 525.8 C258.3 525.8 260.5 523.9 262.6 523.8 C264.6 523.6 267.1 524.9 268.0 525.1"/>
<path class="l" d="M248.3 533.3 C249.5 532.9 253.4 532.1 255.8 531.2 C258.1 530.3 261.4 528.4 262.6 527.8"/>
<path class="l" d="M237.4 504.0 L244.2 504.7 L244.2 506.8"/>
<ellipse class="p" cx="241.5" cy="535.7" rx="1.9" ry="2.2" transform="rotate(0.0 241.5 535.7)"/>
<ellipse class="p" cx="241.5" cy="535.7" rx="1.0" ry="1.1" transform="rotate(0.0 241.5 535.7)"/>
<ellipse class="p" cx="246.9" cy="534.6" rx="1.4" ry="1.4" transform="rotate(0.0 246.9 534.6)"/>
<ellipse class="p" cx="231.3" cy="511.5" rx="1.4" ry="1.9" transform="rotate(0.0 231.3 511.5)"/>
<ellipse class="p" cx="227.9" cy="517.0" rx="1.1" ry="1.4" transform="rotate(0.0 227.9 517.0)"/>
<path class="l" d="M223.2 517.0 L232.7 518.3 L235.4 525.1"/>
<path class="p" d="M228.7 447.6 L236.7 451.7 L238.1 449.0 L230.1 445.0Z"/>
<ellipse class="pg" cx="229.4" cy="446.3" rx="2.4" ry="3.0" transform="rotate(0.0 229.4 446.3)"/>
<ellipse class="p" cx="229.0" cy="446.3" rx="1.5" ry="1.9" transform="rotate(0.0 229.0 446.3)"/>
<path class="p" d="M248.3 500.9 L255.7 505.0 L257.2 502.3 L249.7 498.3Z"/>
<ellipse class="pg" cx="249.0" cy="499.6" rx="2.4" ry="3.0" transform="rotate(0.0 249.0 499.6)"/>
<ellipse class="p" cx="248.6" cy="499.6" rx="1.5" ry="1.9" transform="rotate(0.0 248.6 499.6)"/>
<path class="p" d="M226.6 529.5 L235.4 533.5 L236.7 530.8 L227.9 526.7Z"/>
<ellipse class="pg" cx="227.2" cy="528.1" rx="2.4" ry="3.0" transform="rotate(0.0 227.2 528.1)"/>
<ellipse class="p" cx="226.8" cy="528.1" rx="1.5" ry="1.9" transform="rotate(0.0 226.8 528.1)"/>
<path class="p" d="M224.6 483.4 L218.8 480.2 L218.0 481.7 L223.9 484.8Z"/>
<ellipse class="pg" cx="224.2" cy="484.1" rx="1.4" ry="1.8" transform="rotate(0.0 224.2 484.1)"/>
<ellipse class="p" cx="223.8" cy="484.1" rx="0.9" ry="1.1" transform="rotate(0.0 223.8 484.1)"/>
<ellipse class="pg" cx="285.0" cy="519.0" rx="3.8" ry="4.5" transform="rotate(15.0 285.0 519.0)"/>
<ellipse class="p" cx="284.3" cy="518.6" rx="2.3" ry="2.9" transform="rotate(15.0 284.3 518.6)"/>
<ellipse class="pg" cx="284.0" cy="518.3" rx="1.4" ry="1.8" transform="rotate(15.0 284.0 518.3)"/>
<ellipse class="p" cx="277.8" cy="515.9" rx="1.1" ry="1.4" transform="rotate(0.0 277.8 515.9)"/>
<!-- d3_flywheel_case.svg -->
<ellipse class="p" cx="346.4" cy="553.4" rx="6.4" ry="6.9" transform="rotate(25.0 346.4 553.4)"/>
<ellipse class="pg" cx="347.2" cy="554.0" rx="4.4" ry="4.9" transform="rotate(25.0 347.2 554.0)"/>
<ellipse class="p" cx="347.7" cy="554.3" rx="2.9" ry="3.5" transform="rotate(25.0 347.7 554.3)"/>
<path class="p" d="M333.2 562.0 L345.8 567.9 L347.1 565.2 L334.5 559.4Z"/>
<path class="lt" d="M339.4 564.9 L340.6 562.2"/>
<path class="lt" d="M341.2 565.7 L342.4 563.1"/>
<path class="lt" d="M342.9 566.5 L344.2 563.9"/>
<path class="lt" d="M344.7 567.3 L345.9 564.7"/>
<ellipse class="pd" cx="333.8" cy="560.7" rx="2.0" ry="2.6" transform="rotate(0.0 333.8 560.7)"/>
<ellipse class="pk" cx="333.5" cy="560.7" rx="1.1" ry="1.5" transform="rotate(0.0 333.5 560.7)"/>
<path class="p" d="M357.7 543.0 L370.4 549.2 L371.7 546.6 L358.9 540.4Z"/>
<path class="lt" d="M363.9 546.1 L365.2 543.5"/>
<path class="lt" d="M365.7 546.9 L367.0 544.3"/>
<path class="lt" d="M367.5 547.8 L368.8 545.2"/>
<path class="lt" d="M369.3 548.7 L370.6 546.1"/>
<ellipse class="pd" cx="358.3" cy="541.7" rx="2.0" ry="2.6" transform="rotate(0.0 358.3 541.7)"/>
<ellipse class="pk" cx="357.9" cy="541.7" rx="1.1" ry="1.5" transform="rotate(0.0 357.9 541.7)"/>
<!-- d3a_flywheel.svg -->
<path class="p" d="M289.9 521.3 L295.8 512.8 L301.8 512.3 L315.6 519.3 L308.7 523.7 L295.8 524.7Z"/>
<path class="p" d="M302.3 506.9 L304.2 506.1 L318.6 514.3 L315.6 518.0 L305.7 513.0Z"/>
<path class="p" d="M310.2 503.4 L311.9 502.9 L322.6 509.9 L327.5 513.3 L319.6 515.0 L311.2 509.9Z"/>
<path class="p" d="M315.6 504.1 L317.6 503.7 L332.0 511.8 L329.5 513.5Z"/>
<path class="pk" d="M298.3 519.3 L308.7 523.2 L307.7 525.2 L297.3 521.3Z"/>
<path class="l" d="M305.7 509.9 L317.6 516.3" style="stroke-width:1.4;stroke:#111"/>
<path class="l" d="M312.7 506.9 L323.6 512.8" style="stroke-width:1.4;stroke:#111"/>
<path class="l" d="M297.3 514.8 L311.7 521.0" style="stroke-width:1.2;stroke:#111"/>
<path class="p" d="M284.1 530.9 L290.9 527.5 L294.3 529.2 L292.4 535.1Z"/>
<path class="p" d="M283.1 540.4 L288.9 535.8 L292.8 537.4 L290.9 544.6Z"/>
<path class="p" d="M285.1 548.0 L289.9 543.8 L291.9 546.5 L290.9 552.5Z"/>
<path class="p" d="M289.4 553.7 L302.8 559.6 L302.0 562.6 L289.1 556.2Z"/>
<path class="p" d="M329.5 512.8 C325.1 509.9 321.6 514.0 317.6 515.3 C313.7 516.7 309.3 519.1 305.7 521.0 C302.2 522.8 298.5 524.2 296.3 526.2 C294.1 528.3 293.3 530.4 292.4 533.2 C291.4 535.9 290.8 539.4 290.7 542.6 C290.6 545.8 290.8 549.7 291.7 552.5 C292.5 555.3 293.8 557.4 295.8 559.4 C297.8 561.4 300.6 562.9 303.8 564.4 C306.9 565.9 309.4 570.2 314.7 568.5 C319.9 566.9 330.5 560.4 335.5 554.5 C340.4 548.5 345.4 539.6 344.4 532.7 C343.4 525.7 334.0 515.7 329.5 512.8Z"/>
<path class="lt" d="M308.7 519.8 C307.7 521.1 304.2 524.4 302.8 527.7 C301.4 531.0 300.5 535.6 300.3 539.6 C300.0 543.6 300.4 548.0 301.3 551.5 C302.2 555.0 305.0 558.9 305.7 560.4"/>
<ellipse class="p" cx="322.4" cy="540.4" rx="17.8" ry="29.2" transform="rotate(27.0 322.4 540.4)" style="stroke-width:1.1"/>
<ellipse class="lt" cx="321.8" cy="540.8" rx="16.4" ry="27.3" transform="rotate(27.0 321.8 540.8)"/>
<path class="p" d="M310.2 537.1 L340.9 523.5 L342.6 528.2 L343.4 535.6 L331.5 541.6 L312.2 546.5Z"/>
<path class="l" d="M327.5 529.7 L329.5 542.6"/>
<path class="l" d="M323.6 531.7 C324.6 531.2 327.5 529.4 329.5 528.7 C331.5 528.0 333.8 528.5 335.5 527.7 C337.1 526.9 338.8 524.4 339.4 523.7" style="stroke-width:1.5;stroke:#111"/>
<path class="l" d="M329.5 542.6 C330.3 542.4 332.8 542.2 334.5 541.6 C336.1 540.9 338.6 539.1 339.4 538.6" style="stroke-width:1.3;stroke:#111"/>
<path class="p" d="M310.2 540.1 C311.8 538.4 317.2 535.7 320.1 534.8 C323.0 533.9 325.9 534.0 327.5 534.6 C329.2 535.3 329.7 537.0 330.0 538.6 C330.3 540.3 330.8 542.8 329.5 544.6 C328.3 546.3 324.9 548.3 322.6 549.0 C320.3 549.8 317.7 549.7 315.6 549.0 C313.6 548.4 311.1 546.5 310.2 545.0 C309.3 543.6 308.5 541.8 310.2 540.1Z"/>
<ellipse class="p" cx="323.8" cy="540.8" rx="3.8" ry="5.2" transform="rotate(20.0 323.8 540.8)"/>
<ellipse class="pg" cx="324.0" cy="540.8" rx="2.5" ry="3.7" transform="rotate(20.0 324.0 540.8)"/>
<ellipse class="pd" cx="305.7" cy="547.0" rx="2.6" ry="3.0" transform="rotate(0.0 305.7 547.0)"/>
<ellipse class="p" cx="305.7" cy="547.0" rx="1.4" ry="1.7" transform="rotate(0.0 305.7 547.0)"/>
<ellipse class="pd" cx="314.3" cy="553.0" rx="2.8" ry="3.2" transform="rotate(0.0 314.3 553.0)"/>
<ellipse class="p" cx="314.3" cy="553.0" rx="1.5" ry="1.8" transform="rotate(0.0 314.3 553.0)"/>
<ellipse class="pd" cx="328.0" cy="526.7" rx="2.2" ry="2.8" transform="rotate(0.0 328.0 526.7)"/>
<ellipse class="p" cx="328.0" cy="526.7" rx="1.1" ry="1.5" transform="rotate(0.0 328.0 526.7)"/>
<ellipse class="p" cx="315.4" cy="531.5" rx="0.9" ry="1.6" transform="rotate(25.0 315.4 531.5)"/>
<ellipse class="p" cx="307.7" cy="537.8" rx="0.7" ry="0.9" transform="rotate(0.0 307.7 537.8)"/>
<ellipse class="p" cx="306.2" cy="555.5" rx="0.8" ry="1.0" transform="rotate(0.0 306.2 555.5)"/>
<ellipse class="p" cx="335.5" cy="534.1" rx="0.5" ry="0.6" transform="rotate(0.0 335.5 534.1)"/>
<ellipse class="pk" cx="335.8" cy="540.6" rx="0.4" ry="0.5" transform="rotate(0.0 335.8 540.6)"/>
<!-- d3b_case.svg -->
<path class="p" d="M345.8 580.2 C344.5 583.0 345.8 585.3 346.8 587.9 C347.7 590.5 349.5 593.7 351.6 595.6 C353.7 597.6 356.4 599.0 359.3 599.7 C362.2 600.4 365.7 600.3 369.0 599.7 C372.2 599.1 375.7 597.0 378.6 596.1 C381.5 595.2 383.8 595.0 386.3 594.2 C388.9 593.3 392.1 592.7 394.1 591.0 C396.0 589.3 396.9 586.7 397.9 584.1 C398.9 581.4 399.8 578.3 400.0 575.4 C400.2 572.5 399.6 569.4 399.1 566.7 C398.6 563.9 398.0 560.9 397.1 559.0 C396.3 557.1 395.9 556.3 394.1 555.3 C392.3 554.2 392.9 550.1 386.3 552.7 C379.7 555.3 361.2 566.4 354.5 571.0 C347.7 575.6 347.1 577.4 345.8 580.2Z"/>
<path class="l" d="M345.8 580.2 C346.0 581.5 345.8 585.3 346.8 587.9 C347.7 590.5 349.5 593.7 351.6 595.6 C353.7 597.6 356.4 599.0 359.3 599.7 C362.2 600.4 367.3 599.7 369.0 599.7" style="stroke-width:1.2"/>
<path class="lt" d="M351.1 575.4 C351.1 576.8 350.5 581.2 351.1 584.1 C351.7 586.9 352.9 590.4 354.5 592.7 C356.1 595.1 359.7 597.2 360.8 598.1"/>
<path class="l" d="M355.4 578.3 L371.9 569.1 L376.7 561.9 L381.5 559.0 L394.1 558.2 L397.9 564.7 L398.4 575.4 L396.0 584.1 L390.2 590.3 L381.5 592.7 L372.8 591.8"/>
<path class="p" d="M382.5 560.1 L394.1 559.0 L394.6 563.3 L383.1 564.7Z"/>
<ellipse class="p" cx="385.4" cy="577.3" rx="6.6" ry="10.1" transform="rotate(15.0 385.4 577.3)"/>
<ellipse class="l" cx="385.2" cy="577.5" rx="5.0" ry="8.2" transform="rotate(15.0 385.2 577.5)"/>
<ellipse class="p" cx="383.9" cy="578.3" rx="3.7" ry="6.6" transform="rotate(15.0 383.9 578.3)"/>
<path class="pk" d="M380.5 573.4 C381.2 572.0 382.6 570.4 383.0 571.5 C383.3 572.6 382.8 578.1 382.5 580.2 C382.1 582.3 381.6 584.1 381.0 584.1 C380.5 584.1 379.2 582.0 379.1 580.2 C379.0 578.4 379.9 574.9 380.5 573.4Z"/>
<ellipse class="pg" cx="384.6" cy="578.7" rx="2.1" ry="4.3" transform="rotate(15.0 384.6 578.7)"/>
<path class="l" d="M375.7 561.9 C376.1 562.7 377.9 564.9 378.1 566.7 C378.4 568.4 377.7 570.2 377.2 572.5 C376.6 574.7 375.3 577.6 374.7 580.2 C374.2 582.8 373.9 586.6 373.8 587.9"/>
<path class="l" d="M357.9 584.1 L374.3 588.4" style="stroke-width:1.5;stroke:#111"/>
<path class="l" d="M359.3 587.9 L373.3 590.3" style="stroke-width:1.5;stroke:#111"/>
<path class="l" d="M358.3 580.2 L373.3 586.9" style="stroke-width:1.5;stroke:#111"/>
<path class="l" d="M365.1 591.8 L371.9 591.0" style="stroke-width:1.5;stroke:#111"/>
<path class="l" d="M359.3 580.2 L373.3 586.9 L373.8 582.1"/>
<ellipse class="p" cx="364.1" cy="594.7" rx="2.7" ry="3.1" transform="rotate(0.0 364.1 594.7)"/>
<ellipse class="pd" cx="365.6" cy="595.4" rx="1.2" ry="1.4" transform="rotate(0.0 365.6 595.4)"/>
<path class="p" d="M377.2 539.7 L379.6 537.2 L382.5 536.8 L390.2 541.6 L394.1 542.5 L397.9 540.6 L401.8 542.1 L402.9 545.4 L399.8 548.5 L394.1 549.5 L386.3 553.0 L354.5 571.3 L352.5 568.8 L377.8 545.9Z"/>
<path class="lt" d="M377.8 545.9 L394.1 549.5"/>
<path class="lt" d="M354.5 568.6 L392.1 548.3"/>
<ellipse class="p" cx="386.1" cy="544.3" rx="1.4" ry="1.9" transform="rotate(0.0 386.1 544.3)"/>
<ellipse class="p" cx="399.4" cy="544.5" rx="1.2" ry="1.5" transform="rotate(0.0 399.4 544.5)"/>
<path class="p" d="M394.1 555.3 L397.9 549.3 L401.8 548.3 L399.8 554.1 L397.9 559.0Z"/>
<path class="l" d="M396.0 554.1 L400.3 549.3" style="stroke-width:1.4"/>
<ellipse class="pk" cx="387.3" cy="555.9" rx="1.0" ry="0.5" transform="rotate(0.0 387.3 555.9)"/>
<ellipse class="pk" cx="371.9" cy="564.3" rx="1.0" ry="0.5" transform="rotate(0.0 371.9 564.3)"/>
<path class="p" d="M356.9 559.0 C357.0 557.1 358.0 552.4 358.8 550.8 C359.6 549.1 360.6 549.3 361.7 549.3 C362.8 549.3 365.0 549.8 365.3 550.8 C365.6 551.8 364.4 553.6 363.6 555.3 C362.9 557.0 361.6 559.8 360.8 560.9 C359.9 562.0 359.0 562.2 358.3 561.9 C357.7 561.5 356.8 560.8 356.9 559.0Z"/>
<path class="l" d="M361.7 554.1 L360.8 559.0" style="stroke-width:1.6;stroke:#111"/>
<path class="l" d="M364.1 554.1 L363.2 558.0" style="stroke-width:1.3;stroke:#111"/>
<path class="p" d="M343.4 577.3 L347.2 570.5 L350.6 569.6 L353.7 571.5 L352.5 575.4 L349.7 578.3 L347.2 580.4 L344.8 580.2Z"/>
<path class="l" d="M347.2 570.5 L348.7 575.4 L352.5 575.4"/>
<path class="l" d="M348.7 575.4 L347.2 580.4"/>
<path class="l" d="M352.5 572.5 C354.0 572.1 358.2 571.2 361.2 570.5 C364.3 569.9 369.3 568.9 370.9 568.6"/>
<path class="l" d="M351.6 576.3 C352.9 576.0 356.4 574.8 359.3 574.4 C362.2 574.0 367.3 574.0 369.0 573.9"/>
<ellipse class="p" cx="355.9" cy="600.9" rx="2.9" ry="3.3" transform="rotate(0.0 355.9 600.9)"/>
<ellipse class="pd" cx="355.4" cy="601.2" rx="1.6" ry="1.9" transform="rotate(0.0 355.4 601.2)"/>
<path class="lt" d="M353.5 597.6 L358.8 603.4"/>
<ellipse class="p" cx="406.1" cy="575.6" rx="3.3" ry="2.3" transform="rotate(30.0 406.1 575.6)"/>
<ellipse class="p" cx="392.9" cy="595.6" rx="2.9" ry="1.7" transform="rotate(30.0 392.9 595.6)"/>
<ellipse class="p" cx="386.3" cy="594.2" rx="1.4" ry="1.2" transform="rotate(0.0 386.3 594.2)"/>
<path class="l" d="M397.9 564.7 L401.8 572.5"/>
<path class="l" d="M399.1 566.7 L403.2 573.4"/>
<ellipse class="p" cx="403.7" cy="589.1" rx="6.9" ry="8.5" transform="rotate(25.0 403.7 589.1)"/>
<ellipse class="pd" cx="404.5" cy="589.5" rx="4.8" ry="6.4" transform="rotate(25.0 404.5 589.5)"/>
<ellipse class="pg" cx="405.1" cy="589.8" rx="3.1" ry="4.6" transform="rotate(25.0 405.1 589.8)"/>
<!-- e1_muffler.svg -->
<path class="p" d="M509.2 371.5 L511.9 368.1 L536.2 380.3 L538.0 383.7 L538.0 405.8 L536.2 407.6 L525.2 405.8 L523.4 409.1 L525.2 412.5 L536.2 415.8 L537.4 419.1 L535.8 425.8 L532.9 427.5 L510.8 412.5 L508.5 408.0 L508.5 392.5Z"/>
<path class="p" d="M517.4 381.9 L526.9 385.9 L526.9 392.5 L517.4 388.5Z"/>
<path class="l" d="M518.5 383.4 L525.6 386.5 L525.6 390.7 L518.5 387.6Z"/>
<path class="l" d="M514.5 381.9 L515.9 383.2" style="stroke-width:1.2"/>
<path class="l" d="M530.0 392.1 L531.4 393.4" style="stroke-width:1.2"/>
<path class="p" d="M532.9 359.3 L536.2 351.5 L539.6 344.9 L547.3 341.5 L552.9 342.7 L573.9 354.8 L576.1 359.3 L575.0 368.1 L581.7 373.7 L585.0 380.3 L582.8 385.9 L578.4 387.0 L578.4 393.6 L560.6 403.6 L555.1 403.2 L540.7 394.7 L538.5 388.1 L538.0 382.5 L534.0 372.6Z"/>
<path class="lt" d="M536.2 353.1 C538.1 353.1 543.2 351.7 547.3 353.1 C551.5 354.5 558.6 358.2 561.1 361.5 C563.6 364.7 562.2 370.7 562.4 372.6"/>
<path class="lt" d="M534.0 368.1 L561.1 382.5 L577.2 370.4"/>
<path class="lt" d="M561.1 382.5 L559.5 403.2"/>
<path class="lt" d="M561.1 361.5 L575.0 357.1"/>
<path class="l" d="M536.7 346.4 C537.3 346.1 535.4 342.3 540.2 344.6 C545.0 347.0 560.3 355.2 565.5 360.6 C570.7 366.0 569.4 371.3 571.7 377.0 C574.0 382.7 578.2 391.8 579.5 394.7" style="stroke:#222;stroke-width:2.3"/>
<path class="l" d="M536.7 346.4 C537.3 346.1 535.4 342.3 540.2 344.6 C545.0 347.0 560.3 355.2 565.5 360.6 C570.7 366.0 569.4 371.3 571.7 377.0 C574.0 382.7 578.2 391.8 579.5 394.7" style="stroke:#fff;stroke-width:0.9;stroke-linecap:butt"/>
<path class="p" d="M533.6 368.1 L538.5 365.0 L555.3 373.7 L556.6 379.2 L553.1 381.9 L535.8 373.9Z"/>
<ellipse class="p" cx="544.7" cy="373.2" rx="6.4" ry="3.1" transform="rotate(27.0 544.7 373.2)"/>
<ellipse class="pg" cx="544.7" cy="373.2" rx="4.7" ry="2.0" transform="rotate(27.0 544.7 373.2)"/>
<ellipse class="pk" cx="536.2" cy="369.2" rx="0.7" ry="0.7" transform="rotate(0.0 536.2 369.2)"/>
<ellipse class="pk" cx="553.5" cy="379.2" rx="0.7" ry="0.7" transform="rotate(0.0 553.5 379.2)"/>
<path class="p" d="M576.1 372.6 L581.7 373.7 L585.0 380.3 L582.8 385.9 L578.4 387.0 L576.1 382.5Z"/>
<ellipse class="p" cx="582.3" cy="382.5" rx="1.8" ry="2.4" transform="rotate(0.0 582.3 382.5)"/>
<ellipse class="pd" cx="573.5" cy="347.7" rx="3.3" ry="3.5" transform="rotate(0.0 573.5 347.7)"/>
<ellipse class="pk" cx="573.0" cy="348.0" rx="2.0" ry="2.2" transform="rotate(0.0 573.0 348.0)"/>
<ellipse class="p" cx="573.0" cy="348.0" rx="0.9" ry="1.1" transform="rotate(0.0 573.0 348.0)" style="stroke-width:0.3"/>
<ellipse class="pd" cx="589.0" cy="357.1" rx="3.3" ry="3.5" transform="rotate(0.0 589.0 357.1)"/>
<ellipse class="pk" cx="588.5" cy="357.3" rx="2.0" ry="2.2" transform="rotate(0.0 588.5 357.3)"/>
<ellipse class="p" cx="588.5" cy="357.3" rx="0.9" ry="1.1" transform="rotate(0.0 588.5 357.3)" style="stroke-width:0.3"/>
<path class="p" d="M584.6 305.6 L603.8 301.2 L611.6 304.3 L638.2 319.8 L644.8 326.0 L648.2 337.1 L649.3 342.7 L655.9 344.9 L658.1 352.6 L655.9 361.5 L647.1 367.0 L641.5 369.2 L622.7 385.9 L618.2 382.5 L613.8 388.1 L598.3 379.2 L597.2 365.9 L600.5 361.5 L596.1 357.1 L607.2 350.4 L613.8 344.9 L618.2 337.1 L618.2 327.1 L609.4 321.6 L603.8 322.7 L593.9 317.2 L596.1 314.9 L584.6 308.7Z"/>
<path class="l" d="M584.6 305.6 L603.8 301.2 L611.6 304.3 L638.2 319.8 L644.8 326.0" style="stroke-width:1.1"/>
<path class="l" d="M618.2 327.1 L624.5 330.5 L627.1 339.3 L626.0 370.4 L622.7 385.9"/>
<path class="lt" d="M624.5 330.5 L644.8 326.0"/>
<path class="l" d="M618.2 337.1 L621.6 341.5 L620.5 361.5 L622.7 368.1 L618.2 382.5"/>
<path class="lt" d="M613.8 344.9 L620.5 352.6"/>
<path class="lt" d="M607.2 350.4 L620.5 361.5"/>
<path class="l" d="M597.2 365.9 L613.8 375.9 L618.2 382.5"/>
<path class="l" d="M600.5 361.5 L605.0 363.7 L603.8 370.4"/>
<ellipse class="p" cx="600.5" cy="373.0" rx="1.3" ry="1.8" transform="rotate(0.0 600.5 373.0)"/>
<path class="l" d="M595.0 308.7 L603.8 306.1" style="stroke:#1a1a1a;stroke-width:1.5"/>
<path class="l" d="M601.2 312.1 L611.6 308.3" style="stroke:#1a1a1a;stroke-width:1.5"/>
<path class="l" d="M607.2 315.4 L618.2 311.4" style="stroke:#1a1a1a;stroke-width:1.5"/>
<path class="l" d="M612.9 318.7 L624.5 314.5" style="stroke:#1a1a1a;stroke-width:1.5"/>
<path class="l" d="M618.7 322.0 L630.7 317.6" style="stroke:#1a1a1a;stroke-width:1.5"/>
<path class="l" d="M624.5 325.4 L636.4 321.2" style="stroke:#1a1a1a;stroke-width:1.5"/>
<path class="l" d="M627.6 333.3 L640.9 329.1" style="stroke:#1a1a1a;stroke-width:1.5"/>
<path class="l" d="M627.6 338.9 L643.7 334.0" style="stroke:#1a1a1a;stroke-width:1.5"/>
<path class="l" d="M628.0 344.6 L646.0 339.8" style="stroke:#1a1a1a;stroke-width:1.5"/>
<path class="l" d="M628.4 350.6 L646.4 346.0" style="stroke:#1a1a1a;stroke-width:1.5"/>
<path class="l" d="M629.1 356.8 L643.7 352.8" style="stroke:#1a1a1a;stroke-width:1.5"/>
<path class="l" d="M629.6 362.4 L640.9 359.5" style="stroke:#1a1a1a;stroke-width:1.5"/>
<path class="l" d="M630.2 367.7 L638.2 365.7" style="stroke:#1a1a1a;stroke-width:1.5"/>
<ellipse class="p" cx="649.3" cy="355.3" rx="8.4" ry="11.5" transform="rotate(15.0 649.3 355.3)"/>
<ellipse class="p" cx="649.7" cy="355.3" rx="6.2" ry="9.1" transform="rotate(15.0 649.7 355.3)"/>
<path class="p" d="M654.2 339.3 L661.7 335.3 L663.5 338.9 L655.9 343.1Z"/>
<ellipse class="pg" cx="664.3" cy="335.8" rx="3.3" ry="4.7" transform="rotate(-25.0 664.3 335.8)"/>
<ellipse class="p" cx="665.5" cy="335.3" rx="2.2" ry="3.3" transform="rotate(-25.0 665.5 335.3)"/>
<!-- f1_clutchhousing.svg -->
<path class="p" d="M516.2 672.2 L518.0 664.9 L521.7 660.3 L523.5 651.2 L527.2 647.6 L535.4 642.1 L547.2 636.6 L550.9 633.0 L556.4 635.7 L566.4 633.3 L578.3 634.8 L581.0 631.1 L586.5 629.3 L597.4 635.7 L598.9 640.3 L599.3 684.1 L597.4 693.2 L593.8 699.6 L535.4 734.2 L529.9 737.0 L523.5 734.2 L519.9 726.0 L516.2 700.5Z"/>
<path class="l" d="M516.2 672.2 C516.2 676.9 515.6 691.5 516.2 700.5 C516.8 709.5 518.6 720.4 519.9 726.0 C521.1 731.7 521.8 732.4 523.5 734.2 C525.2 736.1 527.9 737.0 529.9 737.0 C531.9 737.0 534.5 734.7 535.4 734.2" style="stroke-width:1.2"/>
<path class="l" d="M535.4 734.2 L593.8 699.6" style="stroke-width:1.1"/>
<path class="l" d="M521.7 676.8 L525.3 671.3 L531.7 667.3 L532.6 661.2"/>
<path class="l" d="M521.7 676.8 C521.8 681.0 521.8 694.4 522.6 702.3 C523.4 710.2 525.2 719.8 526.3 724.2 C527.3 728.6 528.5 728.0 529.0 728.8"/>
<path class="l" d="M533.6 729.7 L591.0 695.4"/>
<path class="lt" d="M531.7 726.0 L588.3 692.3"/>
<path class="l" d="M591.0 642.4 L590.5 695.0"/>
<path class="lt" d="M597.8 636.6 L597.4 692.3"/>
<path class="p" d="M531.4 661.2 C531.4 659.3 533.2 656.4 535.4 653.9 C537.6 651.5 541.2 648.9 544.5 646.6 C547.8 644.4 551.5 642.0 555.5 640.3 C559.4 638.5 564.4 637.0 568.2 636.2 C572.0 635.5 576.1 636.7 578.3 635.9 C580.4 635.1 579.6 632.5 581.0 631.5 C582.4 630.5 585.1 629.4 586.5 629.7 C587.9 629.9 589.5 631.3 589.2 633.0 C588.9 634.6 586.5 637.9 584.7 639.3 C582.8 640.8 580.9 641.3 578.3 641.7 C575.7 642.2 572.5 641.4 569.1 642.1 C565.8 642.7 561.8 644.1 558.2 645.7 C554.5 647.4 550.4 649.8 547.2 652.1 C544.0 654.4 541.0 657.1 539.0 659.4 C537.1 661.7 536.7 665.5 535.4 665.8 C534.1 666.1 531.4 663.2 531.4 661.2Z"/>
<path class="lt" d="M533.6 659.4 C535.1 657.9 539.0 653.0 542.7 650.3 C546.3 647.6 551.2 644.9 555.5 643.0 C559.7 641.1 564.3 639.6 568.2 638.8 C572.2 638.0 577.4 638.5 579.2 638.4"/>
<path class="p" d="M581.0 631.5 L586.5 629.7 L597.4 635.9 L598.5 640.3 L593.8 645.7 L588.3 643.9 L589.2 633.0Z"/>
<path class="l" d="M535.4 668.5 L547.2 655.8 L562.8 647.6 L573.7 642.4 L576.4 654.9 L575.9 665.8 L572.8 675.3 L562.8 685.9 L555.5 693.2 L542.7 700.5 L535.4 702.3 L532.6 695.0 L531.7 682.2Z"/>
<path class="lt" d="M562.8 647.6 L563.7 654.9 L573.7 660.3 L575.9 665.8"/>
<path class="lt" d="M572.8 675.3 L588.3 692.3"/>
<path class="lt" d="M562.8 685.9 L573.7 695.0 L581.0 692.3"/>
<path class="l" d="M575.9 657.6 L577.4 658.5 L577.4 664.9 L575.9 665.4"/>
<path class="l" d="M532.6 683.1 L531.4 685.0 L531.7 690.4 L533.2 691.4"/>
<path class="pg" d="M534.5 667.6 C534.8 665.0 535.5 662.3 537.2 660.3 C538.9 658.4 542.8 656.1 544.5 655.8 C546.2 655.5 547.4 657.3 547.2 658.5 C547.1 659.7 545.0 661.4 543.6 663.1 C542.2 664.7 540.1 666.6 539.0 668.5 C538.0 670.5 537.8 673.7 537.2 674.9 C536.6 676.1 535.8 677.1 535.4 675.8 C534.9 674.6 534.2 670.2 534.5 667.6Z"/>
<path class="l" d="M535.4 676.8 C536.1 676.5 538.0 676.3 539.9 674.9 C541.9 673.6 545.7 670.7 547.2 668.5 C548.8 666.4 548.8 663.2 549.1 662.2"/>
<ellipse class="p" cx="556.4" cy="676.0" rx="4.4" ry="8.8" transform="rotate(42.0 556.4 676.0)"/>
<ellipse class="p" cx="559.3" cy="671.3" rx="1.5" ry="1.8" transform="rotate(0.0 559.3 671.3)"/>
<ellipse class="p" cx="553.6" cy="680.8" rx="1.5" ry="1.8" transform="rotate(0.0 553.6 680.8)"/>
<ellipse class="p" cx="553.6" cy="705.4" rx="5.7" ry="6.6" transform="rotate(20.0 553.6 705.4)"/>
<ellipse class="p" cx="553.6" cy="705.4" rx="4.4" ry="5.3" transform="rotate(20.0 553.6 705.4)"/>
<path class="l" d="M533.6 698.7 L537.2 704.1 L544.5 702.3 L547.2 707.8"/>
<ellipse class="p" cx="525.3" cy="678.9" rx="2.7" ry="3.1" transform="rotate(0.0 525.3 678.9)"/>
<ellipse class="p" cx="525.3" cy="678.9" rx="1.5" ry="1.8" transform="rotate(0.0 525.3 678.9)"/>
<ellipse class="p" cx="593.4" cy="640.3" rx="2.7" ry="3.1" transform="rotate(0.0 593.4 640.3)"/>
<ellipse class="p" cx="593.4" cy="640.3" rx="1.5" ry="1.8" transform="rotate(0.0 593.4 640.3)"/>
<ellipse class="p" cx="530.8" cy="732.4" rx="2.7" ry="3.1" transform="rotate(0.0 530.8 732.4)"/>
<ellipse class="p" cx="530.8" cy="732.4" rx="1.5" ry="1.8" transform="rotate(0.0 530.8 732.4)"/>
<ellipse class="p" cx="589.2" cy="699.0" rx="2.7" ry="3.1" transform="rotate(0.0 589.2 699.0)"/>
<ellipse class="p" cx="589.2" cy="699.0" rx="1.5" ry="1.8" transform="rotate(0.0 589.2 699.0)"/>
<path class="l" d="M580.1 695.0 C580.5 694.4 581.5 691.8 582.8 691.4 C584.2 690.9 586.5 691.4 588.3 692.3 C590.1 693.2 592.9 696.1 593.8 696.8"/>
<path class="p" d="M596.9 692.1 L604.4 696.5 L603.3 699.4 L596.0 694.6Z"/>
<path class="lt" d="M597.8 692.8 L596.9 695.2"/>
<path class="lt" d="M599.3 693.7 L598.3 696.1"/>
<path class="lt" d="M600.7 694.6 L599.8 697.0"/>
<path class="lt" d="M602.2 695.6 L601.3 697.9"/>
<ellipse class="p" cx="606.6" cy="698.8" rx="2.6" ry="3.7" transform="rotate(-25.0 606.6 698.8)"/>
<path class="l" d="M605.1 696.5 L608.0 701.2"/>
<path class="l" d="M604.7 700.1 L608.4 697.6"/>
<path class="p" d="M602.0 713.3 C602.5 711.9 602.5 711.3 604.7 709.2 C607.0 707.2 613.2 702.5 615.7 700.8 C618.2 699.2 616.8 699.2 619.7 699.6 C622.6 700.0 630.4 702.0 633.0 703.2 C635.6 704.4 635.2 705.5 635.4 706.9 C635.5 708.2 636.9 708.7 633.9 711.4 C631.0 714.2 621.2 721.1 617.5 723.3 C613.9 725.5 614.2 725.0 612.0 724.6 C609.9 724.2 606.4 722.1 604.7 720.9 C603.1 719.7 602.5 718.6 602.0 717.3 C601.5 716.0 601.5 714.6 602.0 713.3Z"/>
<path class="l" d="M602.0 713.3 C602.6 713.7 603.8 715.1 605.6 716.0 C607.5 716.9 611.0 718.4 612.9 718.7 C614.9 719.0 614.0 719.9 617.5 717.8 C621.0 715.8 631.2 708.2 633.9 706.3"/>
<ellipse class="p" cx="621.5" cy="711.1" rx="5.1" ry="4.0" transform="rotate(-25.0 621.5 711.1)"/>
<ellipse class="p" cx="612.9" cy="718.4" rx="1.8" ry="2.0" transform="rotate(0.0 612.9 718.4)"/>
<ellipse class="p" cx="632.5" cy="707.4" rx="1.8" ry="2.0" transform="rotate(0.0 632.5 707.4)"/>
<ellipse class="p" cx="641.2" cy="712.5" rx="4.0" ry="4.6" transform="rotate(10.0 641.2 712.5)"/>
<ellipse class="p" cx="641.2" cy="712.5" rx="1.3" ry="1.5" transform="rotate(10.0 641.2 712.5)"/>
<ellipse class="p" cx="622.3" cy="726.4" rx="4.0" ry="4.6" transform="rotate(10.0 622.3 726.4)"/>
<ellipse class="p" cx="622.3" cy="726.4" rx="1.3" ry="1.5" transform="rotate(10.0 622.3 726.4)"/>
<path class="p" d="M628.1 715.1 L636.1 720.2 L634.7 722.7 L626.6 717.6Z"/>
<path class="p" d="M635.8 720.6 C636.3 719.7 637.3 719.1 638.5 719.1 C639.7 719.1 641.9 719.7 642.7 720.6 C643.5 721.4 643.7 723.1 643.4 724.2 C643.2 725.3 642.2 726.6 641.2 726.9 C640.3 727.3 638.6 726.9 637.6 726.4 C636.6 725.9 635.7 725.2 635.4 724.2 C635.1 723.2 635.2 721.4 635.8 720.6Z"/>
<ellipse class="p" cx="640.1" cy="723.5" rx="2.6" ry="3.1" transform="rotate(0.0 640.1 723.5)"/>
<!-- f2_clutch.svg -->
<path class="p" d="M644.1 730.5 C644.4 728.1 645.5 724.7 647.2 722.0 C648.8 719.4 651.4 716.4 653.9 714.4 C656.5 712.4 659.6 710.9 662.4 710.2 C665.2 709.4 668.5 709.4 670.9 709.8 C673.3 710.3 675.5 711.5 676.8 712.7 C678.2 713.9 679.0 715.7 679.0 716.9 C679.0 718.2 678.2 719.2 676.8 720.3 C675.5 721.5 672.6 723.0 670.9 723.7 C669.2 724.4 667.6 724.9 666.7 724.6 C665.7 724.3 665.7 721.9 665.0 722.0 C664.3 722.2 663.4 723.7 662.4 725.4 C661.4 727.1 659.7 729.9 659.0 732.2 C658.3 734.5 658.8 736.4 658.2 739.0 C657.6 741.5 656.8 745.5 655.6 747.5 C654.5 749.4 653.0 750.4 651.4 750.8 C649.9 751.3 647.5 750.8 646.3 750.0 C645.1 749.2 644.3 748.0 644.1 745.8 C644.0 743.5 645.5 739.0 645.5 736.4 C645.5 733.9 643.8 732.9 644.1 730.5Z"/>
<path class="l" d="M644.6 732.2 C645.5 732.5 647.9 734.0 649.7 733.9 C651.5 733.8 653.9 732.8 655.6 731.4 C657.3 729.9 658.3 727.0 659.9 725.4 C661.4 723.9 664.1 722.6 665.0 722.0"/>
<path class="lt" d="M648.9 728.0 C649.7 726.6 651.7 722.1 653.9 720.0 C656.2 717.9 659.2 716.2 662.4 715.3 C665.7 714.4 671.6 714.7 673.4 714.6"/>
<ellipse class="p" cx="652.3" cy="745.4" rx="2.2" ry="2.5" transform="rotate(0.0 652.3 745.4)"/>
<path class="l" d="M665.0 737.6 C664.5 737.3 662.6 736.3 662.4 735.6 C662.2 734.9 663.1 733.8 663.8 733.6 C664.5 733.3 666.0 733.4 666.7 733.9 C667.3 734.4 667.6 735.9 667.8 736.3" style="stroke-width:1.2;stroke:#111"/>
<path class="l" d="M665.8 750.8 C665.7 751.4 664.7 753.2 665.0 753.9 C665.2 754.6 666.7 755.3 667.5 755.1 C668.3 754.9 669.2 753.2 669.5 752.9" style="stroke-width:1.2;stroke:#111"/>
<path class="pd" d="M662.4 737.6 C663.4 735.6 667.0 736.1 668.4 736.4 C669.7 736.8 670.3 737.6 670.6 739.8 C670.8 742.1 671.1 748.1 670.1 750.0 C669.0 751.9 665.4 751.5 664.1 751.2 C662.8 750.9 662.7 750.6 662.4 748.3 C662.1 746.0 661.4 739.6 662.4 737.6Z"/>
<path class="l" d="M662.4 739.0 L670.2 737.6" style="stroke-width:1.3;stroke:#111"/>
<path class="l" d="M662.4 740.7 L670.2 739.3" style="stroke-width:1.3;stroke:#111"/>
<path class="l" d="M662.4 742.4 L670.2 741.0" style="stroke-width:1.3;stroke:#111"/>
<path class="l" d="M662.4 744.1 L670.2 742.7" style="stroke-width:1.3;stroke:#111"/>
<path class="l" d="M662.4 745.8 L670.2 744.4" style="stroke-width:1.3;stroke:#111"/>
<path class="l" d="M662.4 747.5 L670.2 746.1" style="stroke-width:1.3;stroke:#111"/>
<path class="l" d="M662.4 749.2 L670.2 747.8" style="stroke-width:1.3;stroke:#111"/>
<path class="l" d="M662.4 750.8 L670.2 749.5" style="stroke-width:1.3;stroke:#111"/>
<path class="p" d="M653.1 770.3 C653.4 769.2 654.1 768.2 655.6 766.9 C657.2 765.7 660.0 763.8 662.4 762.7 C664.8 761.6 668.2 761.6 670.1 760.2 C671.9 758.8 672.2 756.8 673.4 754.2 C674.7 751.7 676.3 747.5 677.7 744.9 C679.1 742.3 680.4 739.8 681.9 738.6 C683.5 737.5 685.5 737.7 687.0 738.1 C688.5 738.6 690.3 739.7 690.9 741.5 C691.5 743.4 690.9 747.0 690.4 749.2 C689.9 751.3 688.0 752.8 687.8 754.2 C687.7 755.6 689.7 756.4 689.5 757.6 C689.4 758.9 688.7 759.9 687.0 761.9 C685.3 763.8 682.1 766.9 679.4 769.5 C676.7 772.0 673.4 775.6 670.9 777.1 C668.4 778.7 666.4 779.0 664.1 778.8 C661.9 778.7 659.0 777.1 657.3 776.3 C655.6 775.4 654.7 774.7 653.9 773.7 C653.2 772.7 652.8 771.5 653.1 770.3Z"/>
<path class="l" d="M655.6 766.9 C656.2 767.7 657.3 770.2 659.0 771.2 C660.7 772.2 663.4 773.3 665.8 772.9 C668.2 772.5 671.5 770.3 673.4 768.6 C675.4 766.9 675.3 765.1 677.7 762.7 C680.1 760.3 686.2 755.6 687.8 754.2"/>
<path class="l" d="M670.1 760.2 C670.3 760.7 671.2 762.1 671.7 763.6 C672.3 765.0 673.2 767.8 673.4 768.6"/>
<path class="lt" d="M673.4 754.2 C674.1 754.5 676.4 756.2 677.7 755.9 C678.9 755.6 680.1 753.7 681.1 752.5 C682.1 751.4 683.2 749.7 683.6 749.2"/>
<path class="lt" d="M662.4 762.7 C662.7 763.6 663.6 766.1 664.1 767.8 C664.7 769.5 665.5 772.0 665.8 772.9"/>
<ellipse class="p" cx="686.2" cy="744.9" rx="2.2" ry="2.5" transform="rotate(0.0 686.2 744.9)"/>
<ellipse class="pg" cx="729.4" cy="755.1" rx="3.7" ry="5.1" transform="rotate(-20.0 729.4 755.1)" style="stroke-width:1.2"/>
<ellipse class="p" cx="729.4" cy="755.1" rx="2.2" ry="3.4" transform="rotate(-20.0 729.4 755.1)"/>
<path class="pd" d="M730.1 757.9 L744.2 764.4 L746.1 760.4 L732.0 753.9Z"/>
<path class="l" d="M733.2 759.3 L735.0 755.3" style="stroke-width:0.5"/>
<path class="l" d="M735.1 760.1 L736.9 756.1" style="stroke-width:0.5"/>
<path class="l" d="M737.0 761.0 L738.8 757.0" style="stroke-width:0.5"/>
<path class="l" d="M738.9 761.9 L740.7 757.9" style="stroke-width:0.5"/>
<path class="l" d="M740.7 762.8 L742.6 758.8" style="stroke-width:0.5"/>
<ellipse class="pg" cx="746.5" cy="763.2" rx="4.1" ry="5.1" transform="rotate(-20.0 746.5 763.2)"/>
<ellipse class="pg" cx="717.0" cy="779.7" rx="3.7" ry="5.1" transform="rotate(-20.0 717.0 779.7)" style="stroke-width:1.2"/>
<ellipse class="p" cx="717.0" cy="779.7" rx="2.2" ry="3.4" transform="rotate(-20.0 717.0 779.7)"/>
<path class="pd" d="M717.8 782.5 L732.0 789.1 L733.9 785.1 L719.6 778.5Z"/>
<path class="l" d="M720.8 783.9 L722.7 779.9" style="stroke-width:0.5"/>
<path class="l" d="M722.8 784.8 L724.6 780.8" style="stroke-width:0.5"/>
<path class="l" d="M724.7 785.7 L726.5 781.7" style="stroke-width:0.5"/>
<path class="l" d="M726.6 786.6 L728.4 782.6" style="stroke-width:0.5"/>
<path class="l" d="M728.5 787.5 L730.4 783.5" style="stroke-width:0.5"/>
<ellipse class="pg" cx="734.3" cy="788.0" rx="4.1" ry="5.1" transform="rotate(-20.0 734.3 788.0)"/>
<!-- g1_tank.svg -->
<path class="p" d="M256.0 750.1 C257.6 747.4 262.4 745.5 265.4 745.1 C268.4 744.7 271.2 746.7 274.1 747.6 C276.9 748.4 279.1 748.6 282.4 750.1 C285.7 751.6 290.5 755.5 294.1 756.8 C297.7 758.0 301.9 758.7 304.1 757.6 C306.3 756.5 306.7 753.0 307.4 750.1 C308.1 747.2 307.7 742.4 308.3 740.1 C308.8 737.7 309.5 736.9 310.8 735.9 C312.0 734.9 314.7 736.0 315.8 734.2 C316.9 732.4 316.8 728.1 317.5 725.0 C318.2 722.0 318.6 718.2 320.0 715.9 C321.4 713.5 323.4 711.9 325.8 711.0 C328.2 710.1 331.4 709.7 334.2 710.4 C336.9 711.0 339.7 713.1 342.5 714.7 C345.3 716.2 348.1 718.0 350.8 719.7 C353.6 721.4 357.1 723.0 359.2 725.0 C361.3 727.0 362.9 728.9 363.2 731.7 C363.5 734.5 362.5 737.7 360.9 741.7 C359.2 745.8 357.1 751.5 353.3 755.9 C349.6 760.3 344.3 764.4 338.3 768.1 C332.3 771.9 323.4 775.9 317.5 778.5 C311.5 781.0 306.6 782.6 302.4 783.5 C298.3 784.3 295.2 784.0 292.4 783.5 C289.6 782.9 288.7 782.0 285.7 780.1 C282.8 778.2 277.7 774.1 274.9 772.1 C272.1 770.2 272.2 770.2 269.0 768.4 C265.9 766.7 258.2 764.5 256.0 761.4 C253.8 758.4 254.5 752.8 256.0 750.1Z"/>
<path class="l" d="M256.0 750.1 L273.7 758.4 L283.4 753.8"/>
<path class="l" d="M273.7 758.4 L273.2 771.5"/>
<path class="lt" d="M273.7 758.4 C275.2 759.0 280.1 760.9 282.4 762.1 C284.7 763.4 286.5 764.1 287.7 765.9 C289.0 767.8 289.1 770.5 289.9 773.5 C290.7 776.4 292.0 781.8 292.4 783.5"/>
<path class="lt" d="M287.7 765.9 C289.6 765.3 295.8 762.4 299.1 762.1 C302.4 761.8 303.5 764.7 307.4 764.3 C311.3 763.8 317.5 761.1 322.5 759.3 C327.5 757.5 334.2 756.3 337.5 753.4 C340.8 750.5 341.4 745.1 342.5 741.7 C343.6 738.4 343.9 734.8 344.2 733.4"/>
<path class="lt" d="M320.0 715.9 C320.7 716.8 324.0 718.8 324.5 721.7 C324.9 724.6 322.9 728.7 322.8 733.4 C322.7 738.1 324.2 745.8 324.1 750.1 C324.1 754.4 322.7 757.7 322.5 759.3"/>
<path class="lt" d="M325.8 711.0 C326.6 712.0 328.3 715.4 330.8 716.7 C333.3 718.0 337.5 718.2 340.8 718.7 C344.2 719.2 349.2 719.5 350.8 719.7"/>
<path class="lt" d="M334.2 721.7 C335.8 722.5 341.1 725.9 344.2 726.7 C347.2 727.5 350.0 726.7 352.5 726.4 C355.0 726.1 358.1 725.3 359.2 725.0"/>
<path class="lt" d="M324.1 735.1 C325.8 735.8 331.4 738.1 334.2 739.2 C336.9 740.4 339.2 741.9 340.8 742.1 C342.5 742.2 343.6 740.4 344.2 740.1"/>
<path class="lt" d="M307.4 750.1 C308.0 750.9 310.2 752.9 310.8 755.1 C311.3 757.3 310.2 761.5 310.8 763.4 C311.3 765.4 313.6 766.2 314.1 766.8"/>
<ellipse class="lt" cx="279.9" cy="763.8" rx="4.7" ry="5.7" transform="rotate(-20.0 279.9 763.8)"/>
<path class="p" d="M312.8 767.6 L325.5 763.4 L325.8 765.9 L313.3 770.5Z"/>
<path class="p" d="M325.5 762.1 L336.8 757.6 L337.2 760.1 L325.8 764.8Z"/>
<path class="l" d="M315.0 767.1 L320.8 765.3 L321.0 766.4 L315.1 768.4Z"/>
<path class="l" d="M327.5 761.4 L333.3 759.1 L333.5 760.3 L327.6 762.8Z"/>
<path class="p" d="M247.3 750.1 L249.3 744.7 L256.0 740.1 L260.7 741.7 L265.4 745.1 L256.0 750.1 L256.0 761.4 L247.3 757.6Z"/>
<path class="l" d="M247.3 750.1 L256.0 754.3"/>
<path class="lt" d="M249.3 744.7 L256.0 750.1"/>
<path class="l" d="M249.0 750.9 L249.0 758.4"/>
<path class="l" d="M250.8 751.8 L250.8 759.3"/>
<path class="l" d="M252.7 752.6 L252.7 760.1"/>
<path class="l" d="M254.5 753.4 L254.5 760.9"/>
<path class="l" d="M256.0 740.1 C255.7 740.7 254.0 742.1 254.0 743.7 C254.0 745.4 255.7 749.0 256.0 750.1"/>
<path class="l" d="M260.7 741.7 C260.4 742.3 259.0 744.4 259.0 745.4 C259.0 746.5 260.4 747.6 260.7 748.1"/>
<path class="p" d="M248.2 755.4 L252.0 757.1 L252.0 760.4 L248.2 758.8Z"/>
<ellipse class="p" cx="269.9" cy="750.9" rx="7.0" ry="4.0" transform="rotate(5.0 269.9 750.9)"/>
<ellipse class="p" cx="269.9" cy="749.7" rx="5.0" ry="2.5" transform="rotate(5.0 269.9 749.7)"/>
<ellipse class="pg" cx="269.9" cy="747.4" rx="2.3" ry="1.3" transform="rotate(0.0 269.9 747.4)"/>
<path class="l" d="M269.9 743.7 L269.9 747.4" style="stroke-width:1.3"/>
<path class="pd" d="M283.7 750.1 C284.1 748.8 285.7 747.6 287.7 747.6 C289.7 747.6 293.7 749.1 295.8 750.1 C297.8 751.1 299.4 752.2 299.9 753.4 C300.5 754.7 300.3 756.8 299.1 757.6 C297.8 758.4 294.6 758.8 292.4 758.4 C290.2 758.0 287.2 756.5 285.7 755.1 C284.3 753.7 283.4 751.3 283.7 750.1Z"/>
<ellipse class="p" cx="294.1" cy="754.3" rx="2.3" ry="3.0" transform="rotate(0.0 294.1 754.3)"/>
<ellipse class="pk" cx="289.1" cy="753.1" rx="1.3" ry="1.7" transform="rotate(0.0 289.1 753.1)"/>
<path class="l" d="M285.4 750.1 L284.7 754.3" style="stroke-width:1.0;stroke:#111"/>
<path class="l" d="M287.1 750.6 L286.4 754.9" style="stroke-width:1.0;stroke:#111"/>
<path class="l" d="M288.7 751.1 L288.1 755.6" style="stroke-width:1.0;stroke:#111"/>
<path class="l" d="M271.5 744.1 C271.6 743.2 271.4 740.1 272.0 738.7 C272.7 737.4 274.0 736.2 275.7 736.1 C277.4 735.9 279.3 736.6 282.4 738.1 C285.5 739.6 290.3 742.9 294.1 745.1 C297.8 747.2 303.1 750.1 304.9 751.1" style="stroke:#222;stroke-width:3.8"/>
<path class="l" d="M271.5 744.1 C271.6 743.2 271.4 740.1 272.0 738.7 C272.7 737.4 274.0 736.2 275.7 736.1 C277.4 735.9 279.3 736.6 282.4 738.1 C285.5 739.6 290.3 742.9 294.1 745.1 C297.8 747.2 303.1 750.1 304.9 751.1" style="stroke:#fff;stroke-width:1.8"/>
<path class="l" d="M302.4 718.7 C302.4 721.1 302.8 729.7 302.4 733.4 C302.0 737.1 301.6 738.8 299.9 740.9 C298.3 743.0 295.8 745.2 292.4 745.9 C289.1 746.6 282.0 745.2 279.9 745.1" style="stroke:#222;stroke-width:3.8"/>
<path class="l" d="M302.4 718.7 C302.4 721.1 302.8 729.7 302.4 733.4 C302.0 737.1 301.6 738.8 299.9 740.9 C298.3 743.0 295.8 745.2 292.4 745.9 C289.1 746.6 282.0 745.2 279.9 745.1" style="stroke:#fff;stroke-width:1.8"/>
<path class="l" d="M319.1 730.1 C319.1 733.9 319.8 748.9 319.1 753.4 C318.4 757.9 316.7 756.9 315.0 757.1 C313.2 757.3 309.8 754.9 308.8 754.4" style="stroke:#222;stroke-width:3.8"/>
<path class="l" d="M319.1 730.1 C319.1 733.9 319.8 748.9 319.1 753.4 C318.4 757.9 316.7 756.9 315.0 757.1 C313.2 757.3 309.8 754.9 308.8 754.4" style="stroke:#fff;stroke-width:1.8"/>
<path class="pd" d="M301.3 709.2 L303.6 709.2 L303.6 718.7 L301.3 718.7Z"/>
<ellipse class="p" cx="319.1" cy="730.1" rx="1.2" ry="0.7" transform="rotate(0.0 319.1 730.1)"/>
<ellipse class="p" cx="306.1" cy="752.8" rx="2.7" ry="3.3" transform="rotate(-30.0 306.1 752.8)"/>
<ellipse class="p" cx="308.4" cy="735.9" rx="1.5" ry="1.0" transform="rotate(0.0 308.4 735.9)"/>
<ellipse class="p" cx="278.7" cy="744.7" rx="1.0" ry="1.3" transform="rotate(0.0 278.7 744.7)"/>
<path class="l" d="M299.7 668.9 C299.7 672.2 300.0 684.4 299.7 688.9 C299.3 693.4 298.8 694.1 297.6 695.7 C296.4 697.3 295.8 697.8 292.5 698.4 C289.3 699.0 280.5 699.2 278.1 699.4" style="stroke:#222;stroke-width:3.8"/>
<path class="l" d="M299.7 668.9 C299.7 672.2 300.0 684.4 299.7 688.9 C299.3 693.4 298.8 694.1 297.6 695.7 C296.4 697.3 295.8 697.8 292.5 698.4 C289.3 699.0 280.5 699.2 278.1 699.4" style="stroke:#fff;stroke-width:1.8"/>
<path class="p" d="M271.4 697.7 L274.7 696.7 L277.6 697.7 L277.6 701.1 L274.7 702.5 L271.4 701.1Z"/>
<path class="l" d="M274.7 696.7 L274.7 702.5"/>
<path class="l" d="M273.2 697.0 L273.2 701.8"/>
<path class="pd" d="M297.6 661.8 C297.6 660.9 297.9 660.4 298.5 660.1 C299.0 659.8 300.4 659.7 301.0 660.1 C301.6 660.4 302.0 661.3 302.0 662.1 C302.1 662.9 301.9 664.3 301.4 664.8 C300.8 665.3 299.1 665.7 298.5 665.2 C297.9 664.7 297.6 662.6 297.6 661.8Z"/>
<ellipse class="p" cx="299.8" cy="661.1" rx="0.8" ry="0.7" transform="rotate(0.0 299.8 661.1)"/>
<ellipse class="p" cx="259.0" cy="704.2" rx="4.1" ry="2.7" transform="rotate(0.0 259.0 704.2)"/>
<ellipse class="p" cx="259.0" cy="706.4" rx="2.7" ry="2.0" transform="rotate(0.0 259.0 706.4)"/>
<ellipse class="pg" cx="259.0" cy="707.9" rx="1.7" ry="1.4" transform="rotate(0.0 259.0 707.9)"/>
<path class="p" d="M253.2 700.8 C253.1 699.7 254.3 698.8 255.3 698.2 C256.2 697.7 257.6 697.3 259.0 697.4 C260.4 697.5 262.7 698.0 263.7 698.7 C264.7 699.4 265.2 700.7 265.1 701.6 C264.9 702.5 264.4 703.7 262.9 704.2 C261.4 704.6 257.7 705.1 256.1 704.5 C254.5 703.9 253.4 701.8 253.2 700.8Z"/>
<path class="p" d="M258.3 695.7 L260.7 695.3 L261.4 698.7 L258.0 699.1Z"/>
<path class="p" d="M263.7 698.2 L268.0 697.7 L268.1 700.1 L264.1 700.8Z"/>
<path class="l" d="M267.1 697.9 L267.1 700.1" style="stroke-width:1.2"/>
<path class="p" d="M253.6 716.9 L255.3 721.9 L259.5 723.6 L264.1 721.9 L265.4 716.9Z"/>
<ellipse class="lt" cx="259.5" cy="720.3" rx="3.7" ry="1.7" transform="rotate(0.0 259.5 720.3)"/>
<ellipse class="p" cx="259.5" cy="714.8" rx="7.1" ry="3.7" transform="rotate(0.0 259.5 714.8)"/>
<ellipse class="p" cx="259.5" cy="714.5" rx="4.1" ry="1.9" transform="rotate(0.0 259.5 714.5)"/>
<ellipse class="lt" cx="259.5" cy="714.0" rx="4.1" ry="1.9" transform="rotate(0.0 259.5 714.0)"/>
<!-- g2_tankleft.svg -->
<path class="p" d="M184.5 714.7 C184.8 712.8 185.5 710.3 186.9 708.4 C188.2 706.6 190.6 704.6 192.6 703.7 C194.6 702.8 196.8 702.7 198.9 703.0 C200.9 703.4 203.5 704.7 205.1 705.8 C206.7 706.9 207.6 708.0 208.2 709.5 C208.9 710.9 209.0 713.1 208.9 714.7 C208.8 716.2 207.5 717.9 207.7 718.9 C208.0 719.8 210.0 719.6 210.3 720.4 C210.7 721.3 210.6 723.2 209.9 724.1 C209.2 724.9 207.1 725.5 206.2 725.6 C205.2 725.7 204.9 724.2 204.1 724.6 C203.3 725.0 202.7 727.4 201.5 728.2 C200.2 729.1 198.4 729.8 196.8 729.8 C195.1 729.8 193.2 729.2 191.6 728.2 C189.9 727.3 188.0 725.5 186.9 724.1 C185.7 722.7 185.2 721.5 184.8 719.9 C184.4 718.3 184.1 716.6 184.5 714.7Z"/>
<ellipse class="p" cx="200.1" cy="716.2" rx="8.1" ry="10.8" transform="rotate(20.0 200.1 716.2)"/>
<ellipse class="pg" cx="200.7" cy="716.6" rx="6.5" ry="9.0" transform="rotate(20.0 200.7 716.6)"/>
<path class="l" d="M186.9 708.4 L189.7 710.3 L188.2 716.6 L184.9 715.2Z"/>
<path class="l" d="M192.6 703.7 L194.7 706.3 L189.7 710.3 L186.9 708.4Z"/>
<path class="l" d="M184.9 715.2 L188.2 716.6 L188.9 722.5 L185.5 721.1Z"/>
<path class="l" d="M185.5 721.1 L188.9 722.5 L192.1 727.2 L188.4 725.3Z"/>
<path class="l" d="M198.9 703.0 L199.9 705.5"/>
<path class="lt" d="M194.7 706.3 L192.1 716.8 L193.6 725.1 L196.8 729.3"/>
<path class="p" d="M195.5 713.6 C196.8 712.7 200.2 712.3 202.5 713.1 C204.8 713.9 208.0 716.6 209.3 718.3 C210.6 720.1 210.6 722.4 210.1 723.5 C209.6 724.7 208.4 725.4 206.2 725.3 C203.9 725.2 198.7 723.9 196.8 722.8 C194.9 721.7 194.9 720.4 194.7 718.9 C194.5 717.3 194.2 714.6 195.5 713.6Z"/>
<ellipse class="lt" cx="207.4" cy="721.5" rx="2.3" ry="3.3" transform="rotate(20.0 207.4 721.5)"/>
<path class="l" d="M196.8 722.8 L205.3 725.3" style="stroke-width:1.3"/>
<path class="l" d="M210.1 723.0 L230.1 736.1" style="stroke:#111;stroke-width:1.7"/>
<path class="l" d="M210.1 723.0 L230.1 736.1" style="stroke:#fff;stroke-width:0.5"/>
<ellipse class="p" cx="237.4" cy="739.9" rx="9.6" ry="5.8" transform="rotate(-8.0 237.4 739.9)" style="stroke-width:1.5;stroke:#111"/>
<ellipse class="p" cx="237.4" cy="739.9" rx="8.3" ry="4.8" transform="rotate(-8.0 237.4 739.9)" style="stroke-width:0.5"/>
<path class="l" d="M231.0 742.6 L244.7 737.2" style="stroke-width:1.4;stroke:#111"/>
<path class="l" d="M151.7 758.1 C151.7 755.6 151.1 746.3 151.7 743.2 C152.2 740.1 153.6 739.7 155.0 739.3 C156.4 738.8 155.2 737.9 159.9 740.5 C164.5 743.1 178.9 752.5 182.8 754.9" style="stroke:#222;stroke-width:3.8"/>
<path class="l" d="M151.7 758.1 C151.7 755.6 151.1 746.3 151.7 743.2 C152.2 740.1 153.6 739.7 155.0 739.3 C156.4 738.8 155.2 737.9 159.9 740.5 C164.5 743.1 178.9 752.5 182.8 754.9" style="stroke:#fff;stroke-width:1.8"/>
<path class="l" d="M187.8 758.5 C189.1 758.5 194.0 759.3 195.7 758.8 C197.4 758.4 197.6 759.8 198.0 755.7 C198.4 751.7 198.0 738.1 198.0 734.6" style="stroke:#222;stroke-width:3.8"/>
<path class="l" d="M187.8 758.5 C189.1 758.5 194.0 759.3 195.7 758.8 C197.4 758.4 197.6 759.8 198.0 755.7 C198.4 751.7 198.0 738.1 198.0 734.6" style="stroke:#fff;stroke-width:1.8"/>
<ellipse class="p" cx="185.3" cy="756.7" rx="3.5" ry="4.3" transform="rotate(-30.0 185.3 756.7)"/>
<path class="p" d="M150.1 763.0 L153.4 763.0 L153.4 766.7 L150.1 766.7Z"/>
<ellipse class="p" cx="151.7" cy="763.1" rx="1.6" ry="0.8" transform="rotate(0.0 151.7 763.1)"/>
<ellipse class="pd" cx="151.7" cy="771.0" rx="1.0" ry="1.0" transform="rotate(0.0 151.7 771.0)"/>
<ellipse class="p" cx="153.4" cy="778.4" rx="5.1" ry="5.5" transform="rotate(0.0 153.4 778.4)"/>
<ellipse class="pg" cx="155.4" cy="780.0" rx="3.9" ry="4.3" transform="rotate(0.0 155.4 780.0)"/>
<ellipse class="pk" cx="156.5" cy="781.1" rx="2.7" ry="3.1" transform="rotate(0.0 156.5 781.1)"/>
<path class="pd" d="M150.5 773.1 L153.0 773.1 L153.0 776.1 L150.5 776.1Z"/>
<ellipse class="p" cx="150.1" cy="779.0" rx="1.6" ry="2.7" transform="rotate(0.0 150.1 779.0)"/>
<path class="l" d="M170.2 787.0 C171.6 787.8 175.5 790.7 178.5 791.7 C181.5 792.7 184.0 794.1 188.2 792.9 C192.5 791.6 199.2 787.0 203.9 784.3 C208.6 781.5 214.5 777.8 216.6 776.4" style="stroke:#222;stroke-width:3.8"/>
<path class="l" d="M170.2 787.0 C171.6 787.8 175.5 790.7 178.5 791.7 C181.5 792.7 184.0 794.1 188.2 792.9 C192.5 791.6 199.2 787.0 203.9 784.3 C208.6 781.5 214.5 777.8 216.6 776.4" style="stroke:#fff;stroke-width:1.8"/>
<ellipse class="p" cx="165.3" cy="785.8" rx="5.9" ry="6.5" transform="rotate(-20.0 165.3 785.8)"/>
<ellipse class="lt" cx="164.0" cy="785.1" rx="3.5" ry="4.7" transform="rotate(-20.0 164.0 785.1)"/>
<ellipse class="p" cx="168.7" cy="786.8" rx="2.0" ry="2.7" transform="rotate(0.0 168.7 786.8)"/>
<ellipse class="p" cx="218.5" cy="775.3" rx="2.2" ry="3.9" transform="rotate(25.0 218.5 775.3)"/>
<ellipse class="p" cx="218.9" cy="775.3" rx="1.0" ry="2.3" transform="rotate(25.0 218.9 775.3)"/>
<path class="p" d="M227.0 766.3 C227.4 764.7 228.7 763.0 230.3 762.0 C231.8 761.0 234.6 760.3 236.1 760.4 C237.7 760.5 238.8 761.6 239.5 762.8 C240.1 763.9 240.5 765.8 240.1 767.3 C239.7 768.8 238.6 770.8 237.1 771.8 C235.7 772.7 232.8 773.2 231.3 773.1 C229.7 773.0 228.5 772.3 227.7 771.2 C227.0 770.0 226.5 767.8 227.0 766.3Z"/>
<ellipse class="p" cx="229.7" cy="768.6" rx="2.7" ry="3.9" transform="rotate(20.0 229.7 768.6)"/>
<path class="p" d="M224.4 769.2 L227.3 767.8 L228.1 770.6 L225.4 772.1Z"/>
<ellipse class="pk" cx="225.0" cy="770.8" rx="0.6" ry="0.6" transform="rotate(0.0 225.0 770.8)"/>
<!-- g3_misc.svg -->
<path class="p" d="M283.7 814.9 L285.7 814.9 L285.7 820.9 L283.7 820.9Z"/>
<ellipse class="pd" cx="284.7" cy="814.2" rx="2.0" ry="1.3" transform="rotate(0.0 284.7 814.2)"/>
<ellipse class="pd" cx="284.7" cy="821.6" rx="2.3" ry="1.7" transform="rotate(0.0 284.7 821.6)"/>
<path class="pd" d="M376.2 783.5 L386.2 779.2 L387.5 784.9 L377.5 789.5Z"/>
<path class="pg" d="M377.9 784.2 L385.2 781.2 L385.9 784.2 L378.9 787.5Z"/>
<path class="pd" d="M387.2 776.5 L397.5 771.8 L398.9 778.2 L388.5 782.9Z"/>
<path class="pg" d="M388.9 777.5 L396.5 774.2 L397.2 777.2 L389.9 780.5Z"/>
<path class="p" d="M395.9 786.9 L403.6 782.2 L403.6 776.2 L406.1 773.8 L408.2 775.5 L408.6 780.2 L412.2 778.9 L419.2 782.2 L420.1 796.5 L400.9 805.6 L398.2 803.9 L398.2 793.9 L395.9 792.5Z"/>
<path class="p" d="M401.9 795.9 L417.9 789.2 L418.2 793.9 L402.2 800.5Z"/>
<path class="l" d="M402.0 798.2 L418.1 791.5"/>
<ellipse class="pk" cx="403.2" cy="789.5" rx="0.8" ry="0.8" transform="rotate(0.0 403.2 789.5)"/>
<ellipse class="pk" cx="410.9" cy="786.2" rx="0.8" ry="0.8" transform="rotate(0.0 410.9 786.2)"/>
<ellipse class="p" cx="405.9" cy="776.5" rx="0.8" ry="0.8" transform="rotate(0.0 405.9 776.5)"/>
<ellipse class="pd" cx="426.9" cy="795.5" rx="2.7" ry="3.0" transform="rotate(0.0 426.9 795.5)"/>
<ellipse class="pk" cx="426.9" cy="795.5" rx="1.3" ry="1.3" transform="rotate(0.0 426.9 795.5)"/>
<path class="pd" d="M422.9 792.9 L425.6 792.2 L426.2 794.2 L423.6 794.9Z"/>
</g>
<g id="labels" style="filter:grayscale(1)">
<text class="lb" transform="translate(354.1 38.0) scale(0.93 1)">29</text>
<text class="lb" transform="translate(354.1 56.0) scale(0.93 1)">28</text>
<text class="lb" transform="translate(250.8 52.6) scale(0.93 1)">30</text>
<text class="lb" transform="translate(250.8 70.7) scale(0.93 1)">31</text>
<text class="lb" transform="translate(250.8 89.3) scale(0.93 1)">32</text>
<text class="lb" transform="translate(250.8 107.3) scale(0.93 1)">33</text>
<text class="lb" transform="translate(250.8 125.3) scale(0.93 1)">34</text>
<text class="lb" transform="translate(153.4 148.0) scale(0.93 1)">35</text>
<text class="lb" transform="translate(153.4 166.0) scale(0.93 1)">36</text>
<text class="lb" transform="translate(153.4 184.3) scale(0.93 1)">37</text>
<text class="lb" transform="translate(122.1 205.3) scale(0.93 1)">38</text>
<text class="lb" transform="translate(455.8 221.0) scale(0.93 1)">25</text>
<text class="lb" transform="translate(330.8 231.0) scale(0.93 1)">24</text>
<text class="lb" transform="translate(330.8 249.3) scale(0.93 1)">27</text>
<text class="lb" transform="translate(537.4 246.8) scale(0.93 1)">23</text>
<text class="lb" transform="translate(502.5 269.9) scale(0.93 1)">23A</text>
<text class="lb" transform="translate(512.2 296.3) scale(0.93 1)">14</text>
<text class="lb" transform="translate(512.2 314.3) scale(0.93 1)">13</text>
<text class="lb" transform="translate(512.1 332.3) scale(0.93 1)">41</text>
<text class="lb" transform="translate(666.8 384.3) scale(0.93 1)">42</text>
<text class="lb" transform="translate(613.4 415.3) scale(0.93 1)">40</text>
<text class="lb" transform="translate(613.4 433.3) scale(0.93 1)">39</text>
<text class="lb" transform="translate(512.9 436.0) scale(0.93 1)">12</text>
<text class="lb" transform="translate(512.8 454.3) scale(0.93 1)">9</text>
<text class="lb" transform="translate(512.9 472.7) scale(0.93 1)">11</text>
<text class="lb" transform="translate(512.9 490.7) scale(0.93 1)">10</text>
<text class="lb" transform="translate(512.5 509.3) scale(0.93 1)">18</text>
<text class="lb" transform="translate(512.5 527.3) scale(0.93 1)">16</text>
<text class="lb" transform="translate(512.5 545.7) scale(0.93 1)">17</text>
<text class="lb" transform="translate(512.5 563.7) scale(0.93 1)">19</text>
<text class="lb" transform="translate(512.4 582.0) scale(0.93 1)">20</text>
<text class="lb" transform="translate(328.4 372.7) scale(0.93 1)">26</text>
<text class="lb" transform="translate(334.4 450.3) scale(0.93 1)">7</text>
<text class="lb" transform="translate(322.8 488.7) scale(0.93 1)">21</text>
<text class="lb" transform="translate(363.4 503.7) scale(0.93 1)">22</text>
<text class="lb" transform="translate(363.4 521.7) scale(0.93 1)">4</text>
<text class="lb" transform="translate(259.1 419.3) scale(0.93 1)">8</text>
<text class="lb" transform="translate(59.4 459.3) scale(0.93 1)">60</text>
<text class="lb" transform="translate(78.1 468.7) scale(0.93 1)">59</text>
<text class="lb" transform="translate(107.8 484.3) scale(0.93 1)">56</text>
<text class="lb" transform="translate(121.8 494.0) scale(0.93 1)">53</text>
<text class="lb" transform="translate(140.1 502.7) scale(0.93 1)">55</text>
<text class="lb" transform="translate(159.1 512.7) scale(0.93 1)">54</text>
<text class="lb" transform="translate(178.4 528.0) scale(0.93 1)">57</text>
<text class="lb" transform="translate(98.4 512.7) scale(0.93 1)">52</text>
<text class="lb" transform="translate(287.8 594.5) scale(0.93 1)">6</text>
<text class="lb" transform="translate(288.5 613.0) scale(0.93 1)">1</text>
<text class="lb" transform="translate(359.1 619.7) scale(0.93 1)">5</text>
<text class="lb" transform="translate(379.4 630.0) scale(0.93 1)">3</text>
<text class="lb" transform="translate(395.2 645.7) scale(0.93 1)">15</text>
<text class="lb" transform="translate(430.1 651.5) scale(0.93 1)">3</text>
<text class="lb" transform="translate(445.1 667.7) scale(0.93 1)">2</text>
<text class="lb" transform="translate(470.1 683.0) scale(0.93 1)">4</text>
<text class="lb" transform="translate(476.1 706.7) scale(0.93 1)">43</text>
<text class="lb" transform="translate(409.1 706.8) scale(0.93 1)">65</text>
<text class="lb" transform="translate(561.8 736.0) scale(0.93 1)">44</text>
<text class="lb" transform="translate(561.8 754.2) scale(0.93 1)">45</text>
<text class="lb" transform="translate(561.8 772.2) scale(0.93 1)">47</text>
<text class="lb" transform="translate(561.8 790.7) scale(0.93 1)">46</text>
<text class="lb" transform="translate(689.4 730.0) scale(0.93 1)">49</text>
<text class="lb" transform="translate(719.5 736.7) scale(0.93 1)">48</text>
<text class="lb" transform="translate(665.6 808.3) scale(0.93 1)">50</text>
<text class="lb" transform="translate(665.6 826.7) scale(0.93 1)">51</text>
<text class="lb" transform="translate(451.1 748.8) scale(0.93 1)">74</text>
<text class="lb" transform="translate(451.1 766.8) scale(0.93 1)">75</text>
<text class="lb" transform="translate(451.1 784.9) scale(0.93 1)">76</text>
<text class="lb" transform="translate(210.9 686.0) scale(0.93 1)">67</text>
<text class="lb" transform="translate(210.9 704.5) scale(0.93 1)">71</text>
<text class="lb" transform="translate(156.9 710.5) scale(0.93 1)">66</text>
<text class="lb" transform="translate(327.8 685.0) scale(0.93 1)">72</text>
<text class="lb" transform="translate(115.8 755.0) scale(0.93 1)">70</text>
<text class="lb" transform="translate(115.8 773.0) scale(0.93 1)">67</text>
<text class="lb" transform="translate(255.3 784.6) scale(0.93 1)">69</text>
<text class="lb" transform="translate(255.3 802.6) scale(0.93 1)">68</text>
<text class="lb" transform="translate(311.1 830.3) scale(0.93 1)">73</text>
</g>
</svg></body></html>
